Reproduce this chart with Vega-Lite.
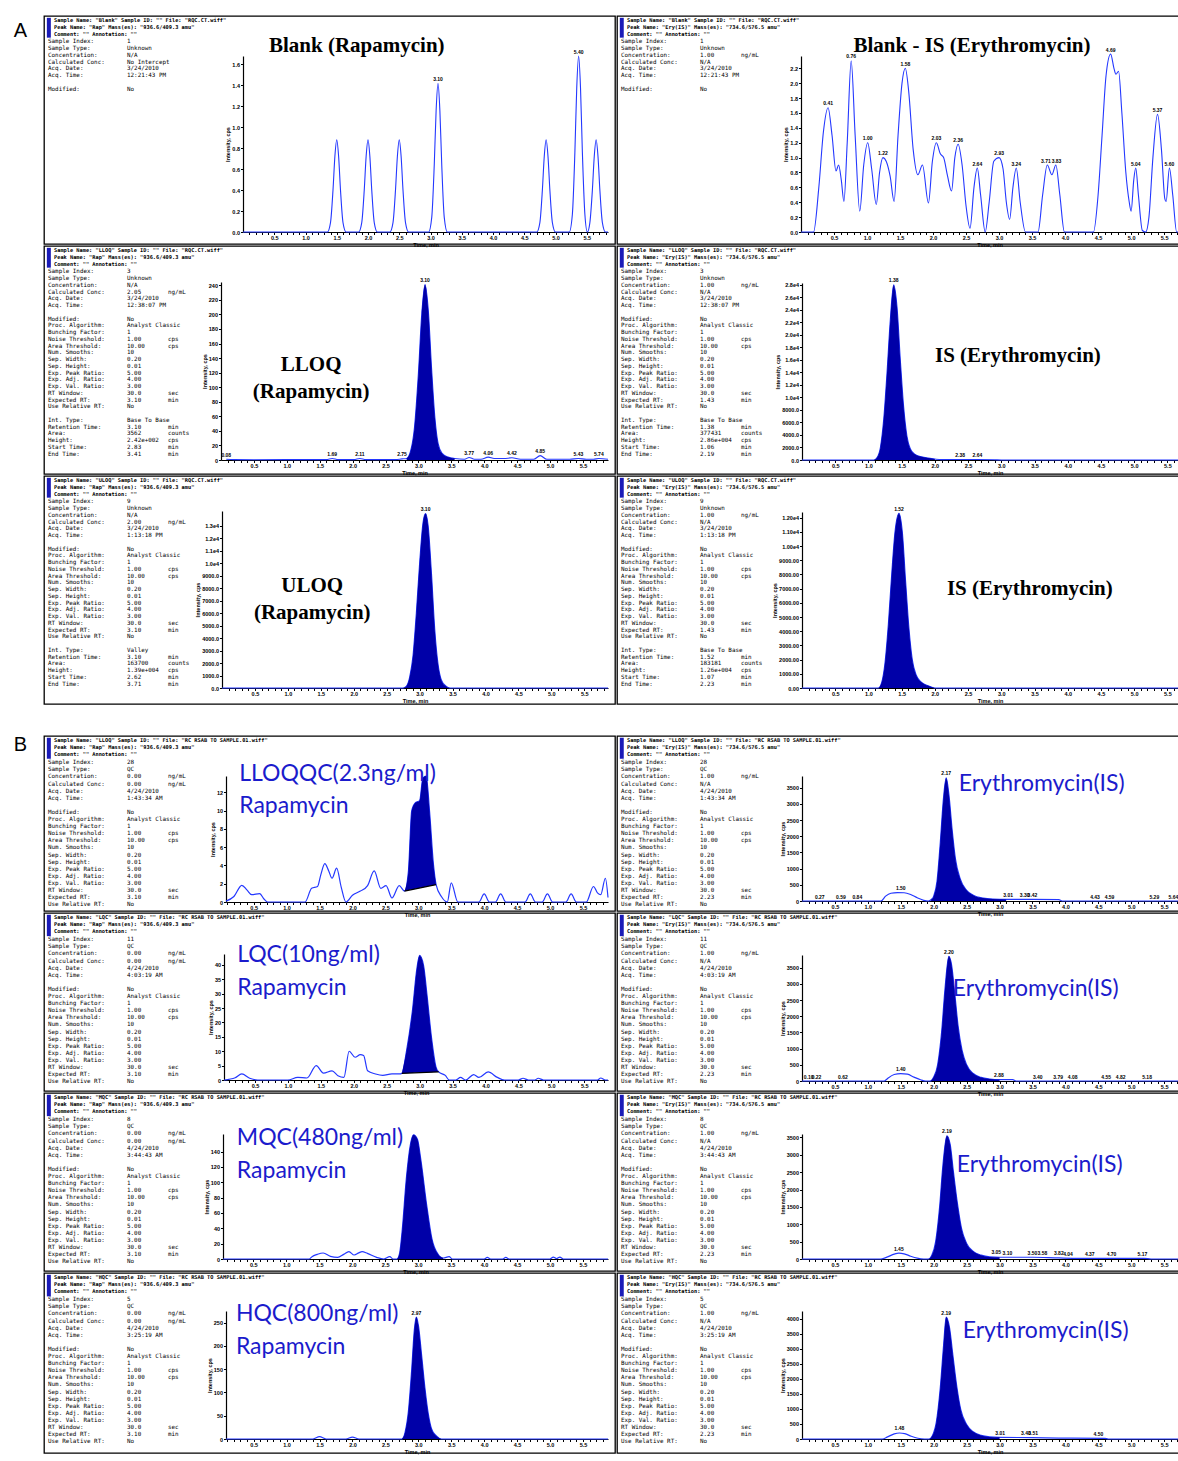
{
"$schema": "https://vega.github.io/schema/vega-lite/v6.json",
"background": "white",
"padding": {"left": 13, "top": 15, "right": 0, "bottom": 0},
"config": {
  "view": {"stroke": "#000000", "strokeWidth": 1.3},
  "axis": {"labelFont": "Liberation Sans", "labelFontSize": 5.5, "labelFontWeight": "bold", "labelColor": "#000", "titleFont": "Liberation Sans", "titleFontSize": 5.5, "titleFontWeight": "bold", "titleColor": "#000", "domainColor": "#000", "domainWidth": 1.2, "tickColor": "#000", "tickSize": 2.5, "tickWidth": 1, "grid": false, "labelPadding": 1, "titlePadding": 1, "labelOverlap": false, "labelFlush": false, "tickCount": 200}
},
"datasets": {
  "ml_a1": [{"s": "Sample Index:\nSample Type:\nConcentration:\nCalculated Conc:\nAcq. Date:\nAcq. Time:\n\u200b\nModified:"}],
  "ml_a": [{"s": "Sample Index:\nSample Type:\nConcentration:\nCalculated Conc:\nAcq. Date:\nAcq. Time:\n\u200b\nModified:\nProc. Algorithm:\nBunching Factor:\nNoise Threshold:\nArea Threshold:\nNum. Smooths:\nSep. Width:\nSep. Height:\nExp. Peak Ratio:\nExp. Adj. Ratio:\nExp. Val. Ratio:\nRT Window:\nExpected RT:\nUse Relative RT:\n\u200b\nInt. Type:\nRetention Time:\nArea:\nHeight:\nStart Time:\nEnd Time:"}],
  "ml_b": [{"s": "Sample Index:\nSample Type:\nConcentration:\nCalculated Conc:\nAcq. Date:\nAcq. Time:\n\u200b\nModified:\nProc. Algorithm:\nBunching Factor:\nNoise Threshold:\nArea Threshold:\nNum. Smooths:\nSep. Width:\nSep. Height:\nExp. Peak Ratio:\nExp. Adj. Ratio:\nExp. Val. Ratio:\nRT Window:\nExpected RT:\nUse Relative RT:"}],
  "mu_a1r": [{"s": "\u200b\n\u200b\nng/mL"}],
  "mu_al": [{"s": "\u200b\n\u200b\n\u200b\nng/mL\n\u200b\n\u200b\n\u200b\n\u200b\n\u200b\n\u200b\ncps\ncps\n\u200b\n\u200b\n\u200b\n\u200b\n\u200b\n\u200b\nsec\nmin\n\u200b\n\u200b\n\u200b\nmin\ncounts\ncps\nmin\nmin"}],
  "mu_ar": [{"s": "\u200b\n\u200b\nng/mL\n\u200b\n\u200b\n\u200b\n\u200b\n\u200b\n\u200b\n\u200b\ncps\ncps\n\u200b\n\u200b\n\u200b\n\u200b\n\u200b\n\u200b\nsec\nmin\n\u200b\n\u200b\n\u200b\nmin\ncounts\ncps\nmin\nmin"}],
  "mu_bl": [{"s": "\u200b\n\u200b\nng/mL\nng/mL\n\u200b\n\u200b\n\u200b\n\u200b\n\u200b\n\u200b\ncps\ncps\n\u200b\n\u200b\n\u200b\n\u200b\n\u200b\n\u200b\nsec\nmin"}],
  "mu_br": [{"s": "\u200b\n\u200b\nng/mL\n\u200b\n\u200b\n\u200b\n\u200b\n\u200b\n\u200b\n\u200b\ncps\ncps\n\u200b\n\u200b\n\u200b\n\u200b\n\u200b\n\u200b\nsec\nmin"}],
  "mt_a1l": [{"h": "Sample Name: \"Blank\"  Sample ID: \"\"  File: \"RQC.CT.wiff\"\nPeak Name: \"Rap\"  Mass(es): \"936.6/409.3 amu\"\nComment: \"\"  Annotation: \"\"", "v": "1\nUnknown\nN/A\nNo Intercept\n3/24/2010\n12:21:43 PM\n\u200b\nNo"}],
  "mt_a1r": [{"h": "Sample Name: \"Blank\"  Sample ID: \"\"  File: \"RQC.CT.wiff\"\nPeak Name: \"Ery(IS)\"  Mass(es): \"734.6/576.5 amu\"\nComment: \"\"  Annotation: \"\"", "v": "1\nUnknown\n1.00\nN/A\n3/24/2010\n12:21:43 PM\n\u200b\nNo"}],
  "mt_a2l": [{"h": "Sample Name: \"LLOQ\"  Sample ID: \"\"  File: \"RQC.CT.wiff\"\nPeak Name: \"Rap\"  Mass(es): \"936.6/409.3 amu\"\nComment: \"\"  Annotation: \"\"", "v": "3\nUnknown\nN/A\n2.05\n3/24/2010\n12:38:07 PM\n\u200b\nNo\nAnalyst Classic\n1\n1.00\n10.00\n10\n0.20\n0.01\n5.00\n4.00\n3.00\n30.0\n3.10\nNo\n\u200b\nBase To Base\n3.10\n3562\n2.42e+002\n2.83\n3.41"}],
  "mt_a2r": [{"h": "Sample Name: \"LLOQ\"  Sample ID: \"\"  File: \"RQC.CT.wiff\"\nPeak Name: \"Ery(IS)\"  Mass(es): \"734.6/576.5 amu\"\nComment: \"\"  Annotation: \"\"", "v": "3\nUnknown\n1.00\nN/A\n3/24/2010\n12:38:07 PM\n\u200b\nNo\nAnalyst Classic\n1\n1.00\n10.00\n10\n0.20\n0.01\n5.00\n4.00\n3.00\n30.0\n1.43\nNo\n\u200b\nBase To Base\n1.38\n377431\n2.86e+004\n1.06\n2.19"}],
  "mt_a3l": [{"h": "Sample Name: \"ULOQ\"  Sample ID: \"\"  File: \"RQC.CT.wiff\"\nPeak Name: \"Rap\"  Mass(es): \"936.6/409.3 amu\"\nComment: \"\"  Annotation: \"\"", "v": "9\nUnknown\nN/A\n2.00\n3/24/2010\n1:13:18 PM\n\u200b\nNo\nAnalyst Classic\n1\n1.00\n10.00\n10\n0.20\n0.01\n5.00\n4.00\n3.00\n30.0\n3.10\nNo\n\u200b\nValley\n3.10\n163700\n1.39e+004\n2.62\n3.71"}],
  "mt_a3r": [{"h": "Sample Name: \"ULOQ\"  Sample ID: \"\"  File: \"RQC.CT.wiff\"\nPeak Name: \"Ery(IS)\"  Mass(es): \"734.6/576.5 amu\"\nComment: \"\"  Annotation: \"\"", "v": "9\nUnknown\n1.00\nN/A\n3/24/2010\n1:13:18 PM\n\u200b\nNo\nAnalyst Classic\n1\n1.00\n10.00\n10\n0.20\n0.01\n5.00\n4.00\n3.00\n30.0\n1.43\nNo\n\u200b\nBase To Base\n1.52\n183181\n1.26e+004\n1.07\n2.23"}],
  "mt_b1l": [{"h": "Sample Name: \"LLOQ\"  Sample ID: \"\"  File: \"RC RSAB TO SAMPLE.01.wiff\"\nPeak Name: \"Rap\"  Mass(es): \"936.6/409.3 amu\"\nComment: \"\"  Annotation: \"\"", "v": "28\nQC\n0.00\n0.00\n4/24/2010\n1:43:34 AM\n\u200b\nNo\nAnalyst Classic\n1\n1.00\n10.00\n10\n0.20\n0.01\n5.00\n4.00\n3.00\n30.0\n3.10\nNo"}],
  "mt_b1r": [{"h": "Sample Name: \"LLOQ\"  Sample ID: \"\"  File: \"RC RSAB TO SAMPLE.01.wiff\"\nPeak Name: \"Ery(IS)\"  Mass(es): \"734.6/576.5 amu\"\nComment: \"\"  Annotation: \"\"", "v": "28\nQC\n1.00\nN/A\n4/24/2010\n1:43:34 AM\n\u200b\nNo\nAnalyst Classic\n1\n1.00\n10.00\n10\n0.20\n0.01\n5.00\n4.00\n3.00\n30.0\n2.23\nNo"}],
  "mt_b2l": [{"h": "Sample Name: \"LQC\"  Sample ID: \"\"  File: \"RC RSAB TO SAMPLE.01.wiff\"\nPeak Name: \"Rap\"  Mass(es): \"936.6/409.3 amu\"\nComment: \"\"  Annotation: \"\"", "v": "11\nQC\n0.00\n0.00\n4/24/2010\n4:03:19 AM\n\u200b\nNo\nAnalyst Classic\n1\n1.00\n10.00\n10\n0.20\n0.01\n5.00\n4.00\n3.00\n30.0\n3.10\nNo"}],
  "mt_b2r": [{"h": "Sample Name: \"LQC\"  Sample ID: \"\"  File: \"RC RSAB TO SAMPLE.01.wiff\"\nPeak Name: \"Ery(IS)\"  Mass(es): \"734.6/576.5 amu\"\nComment: \"\"  Annotation: \"\"", "v": "11\nQC\n1.00\nN/A\n4/24/2010\n4:03:19 AM\n\u200b\nNo\nAnalyst Classic\n1\n1.00\n10.00\n10\n0.20\n0.01\n5.00\n4.00\n3.00\n30.0\n2.23\nNo"}],
  "mt_b3l": [{"h": "Sample Name: \"MQC\"  Sample ID: \"\"  File: \"RC RSAB TO SAMPLE.01.wiff\"\nPeak Name: \"Rap\"  Mass(es): \"936.6/409.3 amu\"\nComment: \"\"  Annotation: \"\"", "v": "8\nQC\n0.00\n0.00\n4/24/2010\n3:44:43 AM\n\u200b\nNo\nAnalyst Classic\n1\n1.00\n10.00\n10\n0.20\n0.01\n5.00\n4.00\n3.00\n30.0\n3.10\nNo"}],
  "mt_b3r": [{"h": "Sample Name: \"MQC\"  Sample ID: \"\"  File: \"RC RSAB TO SAMPLE.01.wiff\"\nPeak Name: \"Ery(IS)\"  Mass(es): \"734.6/576.5 amu\"\nComment: \"\"  Annotation: \"\"", "v": "8\nQC\n1.00\nN/A\n4/24/2010\n3:44:43 AM\n\u200b\nNo\nAnalyst Classic\n1\n1.00\n10.00\n10\n0.20\n0.01\n5.00\n4.00\n3.00\n30.0\n2.23\nNo"}],
  "mt_b4l": [{"h": "Sample Name: \"HQC\"  Sample ID: \"\"  File: \"RC RSAB TO SAMPLE.01.wiff\"\nPeak Name: \"Rap\"  Mass(es): \"936.6/409.3 amu\"\nComment: \"\"  Annotation: \"\"", "v": "5\nQC\n0.00\n0.00\n4/24/2010\n3:25:19 AM\n\u200b\nNo\nAnalyst Classic\n1\n1.00\n10.00\n10\n0.20\n0.01\n5.00\n4.00\n3.00\n30.0\n3.10\nNo"}],
  "mt_b4r": [{"h": "Sample Name: \"HQC\"  Sample ID: \"\"  File: \"RC RSAB TO SAMPLE.01.wiff\"\nPeak Name: \"Ery(IS)\"  Mass(es): \"734.6/576.5 amu\"\nComment: \"\"  Annotation: \"\"", "v": "5\nQC\n1.00\nN/A\n4/24/2010\n3:25:19 AM\n\u200b\nNo\nAnalyst Classic\n1\n1.00\n10.00\n10\n0.20\n0.01\n5.00\n4.00\n3.00\n30.0\n2.23\nNo"}],
  "tr_a1l": [{"t":0,"y":0},{"t":1.35,"y":0},{"t":1.4,"y":0.09},{"t":1.44,"y":0.4},{"t":1.47,"y":0.72},{"t":1.5,"y":0.88},{"t":1.53,"y":0.72},{"t":1.56,"y":0.4},{"t":1.6,"y":0.09},{"t":1.65,"y":0},{"t":1.85,"y":0},{"t":1.9,"y":0.09},{"t":1.94,"y":0.4},{"t":1.97,"y":0.72},{"t":2.0,"y":0.88},{"t":2.03,"y":0.72},{"t":2.06,"y":0.4},{"t":2.1,"y":0.09},{"t":2.15,"y":0},{"t":2.35,"y":0},{"t":2.4,"y":0.09},{"t":2.44,"y":0.4},{"t":2.47,"y":0.72},{"t":2.5,"y":0.88},{"t":2.53,"y":0.72},{"t":2.56,"y":0.4},{"t":2.6,"y":0.09},{"t":2.65,"y":0},{"t":2.97,"y":0},{"t":3.02,"y":0.14},{"t":3.06,"y":0.64},{"t":3.09,"y":1.16},{"t":3.12,"y":1.42},{"t":3.15,"y":1.16},{"t":3.18,"y":0.64},{"t":3.22,"y":0.14},{"t":3.27,"y":0},{"t":4.7,"y":0},{"t":4.75,"y":0.09},{"t":4.79,"y":0.4},{"t":4.82,"y":0.72},{"t":4.85,"y":0.88},{"t":4.88,"y":0.72},{"t":4.91,"y":0.4},{"t":4.95,"y":0.09},{"t":5.0,"y":0},{"t":5.22,"y":0},{"t":5.27,"y":0.17},{"t":5.31,"y":0.76},{"t":5.34,"y":1.38},{"t":5.37,"y":1.68},{"t":5.4,"y":1.38},{"t":5.43,"y":0.76},{"t":5.47,"y":0.17},{"t":5.51,"y":0},{"t":5.55,"y":0.09},{"t":5.59,"y":0.4},{"t":5.62,"y":0.72},{"t":5.65,"y":0.88},{"t":5.68,"y":0.72},{"t":5.71,"y":0.4},{"t":5.75,"y":0.09},{"t":5.8,"y":0},{"t":5.84,"y":0}],
  "lb_a1l": [{"t":3.12,"y":1.42,"lab":"3.10"},{"t":5.37,"y":1.68,"lab":"5.40"}],
  "tr_a1r": [{"t":0,"y":0},{"t":0.19,"y":0},{"t":0.27,"y":0.6},{"t":0.34,"y":1.35},{"t":0.41,"y":1.67},{"t":0.47,"y":1.3},{"t":0.53,"y":0.82},{"t":0.57,"y":0.9},{"t":0.61,"y":0.7},{"t":0.65,"y":0.41},{"t":0.7,"y":1.2},{"t":0.76,"y":2.3},{"t":0.82,"y":1.3},{"t":0.89,"y":0.28},{"t":0.95,"y":0.9},{"t":1.01,"y":1.2},{"t":1.07,"y":0.85},{"t":1.14,"y":0.37},{"t":1.19,"y":0.8},{"t":1.24,"y":1.0},{"t":1.29,"y":0.95},{"t":1.35,"y":0.75},{"t":1.41,"y":0.41},{"t":1.47,"y":1.3},{"t":1.53,"y":2.0},{"t":1.58,"y":2.2},{"t":1.63,"y":1.9},{"t":1.7,"y":1.1},{"t":1.77,"y":0.77},{"t":1.84,"y":0.9},{"t":1.93,"y":0.39},{"t":1.99,"y":0.95},{"t":2.05,"y":1.2},{"t":2.11,"y":1.05},{"t":2.16,"y":1.0},{"t":2.22,"y":0.75},{"t":2.28,"y":0.55},{"t":2.33,"y":1.0},{"t":2.38,"y":1.18},{"t":2.44,"y":0.9},{"t":2.5,"y":0.35},{"t":2.56,"y":0.05},{"t":2.62,"y":0.6},{"t":2.67,"y":0.86},{"t":2.72,"y":0.5},{"t":2.79,"y":0},{"t":2.85,"y":0.4},{"t":2.92,"y":0.95},{"t":3.0,"y":1.0},{"t":3.06,"y":0.85},{"t":3.11,"y":0.4},{"t":3.16,"y":0.17},{"t":3.21,"y":0.6},{"t":3.26,"y":0.86},{"t":3.32,"y":0.4},{"t":3.4,"y":0},{"t":3.59,"y":0},{"t":3.66,"y":0.5},{"t":3.73,"y":0.9},{"t":3.8,"y":0.77},{"t":3.86,"y":0.9},{"t":3.92,"y":0.5},{"t":3.99,"y":0},{"t":4.43,"y":0},{"t":4.5,"y":0.5},{"t":4.56,"y":1.3},{"t":4.62,"y":2.1},{"t":4.69,"y":2.39},{"t":4.74,"y":2.2},{"t":4.77,"y":2.12},{"t":4.81,"y":2.16},{"t":4.86,"y":1.6},{"t":4.92,"y":0.8},{"t":4.97,"y":0.41},{"t":5.0,"y":0.28},{"t":5.04,"y":0.7},{"t":5.07,"y":0.86},{"t":5.11,"y":0.5},{"t":5.17,"y":0.02},{"t":5.22,"y":0},{"t":5.27,"y":0.2},{"t":5.33,"y":1.0},{"t":5.4,"y":1.58},{"t":5.46,"y":1.1},{"t":5.51,"y":0.45},{"t":5.53,"y":0.41},{"t":5.58,"y":0.86},{"t":5.63,"y":0.5},{"t":5.69,"y":0},{"t":5.71,"y":0}],
  "lb_a1r": [{"t":0.41,"y":1.67,"lab":"0.41"},{"t":0.76,"y":2.3,"lab":"0.76"},{"t":1.01,"y":1.2,"lab":"1.00"},{"t":1.24,"y":1.0,"lab":"1.22"},{"t":1.58,"y":2.2,"lab":"1.58"},{"t":2.05,"y":1.2,"lab":"2.03"},{"t":2.38,"y":1.18,"lab":"2.36"},{"t":2.67,"y":0.86,"lab":"2.64"},{"t":3.0,"y":1.0,"lab":"2.93"},{"t":3.26,"y":0.86,"lab":"3.24"},{"t":3.71,"y":0.9,"lab":"3.71"},{"t":3.87,"y":0.9,"lab":"3.83"},{"t":4.69,"y":2.39,"lab":"4.69"},{"t":5.07,"y":0.86,"lab":"5.04"},{"t":5.4,"y":1.58,"lab":"5.37"},{"t":5.58,"y":0.86,"lab":"5.60"}],
  "tr_a2l": [{"t":0.08,"y":1},{"t":0.2,"y":0.5},{"t":0.5,"y":0.3},{"t":1.0,"y":0.5},{"t":1.6,"y":0.5},{"t":1.69,"y":2},{"t":1.78,"y":0.5},{"t":2.02,"y":0.5},{"t":2.11,"y":2},{"t":2.2,"y":0.5},{"t":2.65,"y":0.5},{"t":2.75,"y":1.5},{"t":2.82,"y":2},{"t":2.88,"y":12},{"t":2.94,"y":45},{"t":3.0,"y":120},{"t":3.05,"y":200},{"t":3.1,"y":241},{"t":3.15,"y":205},{"t":3.2,"y":125},{"t":3.25,"y":58},{"t":3.3,"y":22},{"t":3.36,"y":9},{"t":3.45,"y":4},{"t":3.55,"y":2},{"t":3.7,"y":1},{"t":3.77,"y":3.5},{"t":3.85,"y":1},{"t":3.95,"y":1},{"t":4.06,"y":4},{"t":4.15,"y":2},{"t":4.3,"y":2},{"t":4.42,"y":3},{"t":4.55,"y":1},{"t":4.75,"y":1},{"t":4.85,"y":6},{"t":4.95,"y":1},{"t":5.3,"y":1},{"t":5.43,"y":2},{"t":5.55,"y":1},{"t":5.66,"y":1},{"t":5.74,"y":2},{"t":5.88,"y":1}],
  "lb_a2l": [{"t":0.08,"y":1,"lab":"0.08"},{"t":1.69,"y":2,"lab":"1.69"},{"t":2.11,"y":2,"lab":"2.11"},{"t":2.75,"y":1.5,"lab":"2.75"},{"t":3.1,"y":241,"lab":"3.10"},{"t":3.77,"y":3.5,"lab":"3.77"},{"t":4.06,"y":4,"lab":"4.06"},{"t":4.42,"y":3,"lab":"4.42"},{"t":4.85,"y":6,"lab":"4.85"},{"t":5.43,"y":2,"lab":"5.43"},{"t":5.74,"y":2,"lab":"5.74"}],
  "tr_a2r": [{"t":0,"y":0},{"t":1.08,"y":0},{"t":1.13,"y":400},{"t":1.18,"y":2000},{"t":1.23,"y":6500},{"t":1.28,"y":14000},{"t":1.33,"y":22500},{"t":1.38,"y":28000},{"t":1.43,"y":24500},{"t":1.48,"y":16000},{"t":1.53,"y":8500},{"t":1.58,"y":3800},{"t":1.63,"y":1800},{"t":1.7,"y":900},{"t":1.8,"y":500},{"t":1.9,"y":300},{"t":2.0,"y":150},{"t":2.1,"y":60},{"t":2.38,"y":90},{"t":2.64,"y":90},{"t":2.9,"y":40},{"t":3.0,"y":0},{"t":5.66,"y":0}],
  "lb_a2r": [{"t":1.38,"y":28000,"lab":"1.38"},{"t":2.38,"y":90,"lab":"2.38"},{"t":2.64,"y":90,"lab":"2.64"}],
  "tr_a3l": [{"t":0,"y":0},{"t":2.75,"y":0},{"t":2.8,"y":150},{"t":2.85,"y":900},{"t":2.9,"y":2600},{"t":2.95,"y":6000},{"t":3.0,"y":10000},{"t":3.05,"y":13200},{"t":3.09,"y":14000},{"t":3.13,"y":13000},{"t":3.18,"y":9200},{"t":3.23,"y":4700},{"t":3.28,"y":1900},{"t":3.33,"y":650},{"t":3.4,"y":150},{"t":3.46,"y":0},{"t":5.86,"y":0}],
  "lb_a3l": [{"t":3.09,"y":14000,"lab":"3.10"}],
  "tr_a3r": [{"t":0,"y":0},{"t":1.15,"y":0},{"t":1.2,"y":400},{"t":1.25,"y":1800},{"t":1.3,"y":4500},{"t":1.35,"y":8000},{"t":1.4,"y":11000},{"t":1.46,"y":12300},{"t":1.51,"y":11000},{"t":1.56,"y":7500},{"t":1.61,"y":4200},{"t":1.66,"y":2000},{"t":1.72,"y":900},{"t":1.8,"y":400},{"t":1.9,"y":150},{"t":2.0,"y":0},{"t":5.66,"y":0}],
  "lb_a3r": [{"t":1.46,"y":12300,"lab":"1.52"}],
  "tr_b1l": [{"t":0.08,"y":0.1},{"t":0.2,"y":0.6},{"t":0.32,"y":1.83},{"t":0.4,"y":1.3},{"t":0.47,"y":0.8},{"t":0.59,"y":0.92},{"t":0.66,"y":0.3},{"t":0.71,"y":0},{"t":1.28,"y":0},{"t":1.38,"y":1.5},{"t":1.47,"y":1.7},{"t":1.52,"y":3.0},{"t":1.58,"y":4.2},{"t":1.64,"y":3.4},{"t":1.69,"y":2.6},{"t":1.76,"y":3.7},{"t":1.83,"y":1.6},{"t":1.9,"y":0},{"t":2.0,"y":0.73},{"t":2.12,"y":1.2},{"t":2.23,"y":1.8},{"t":2.33,"y":3.4},{"t":2.43,"y":1.5},{"t":2.51,"y":1.8},{"t":2.6,"y":0.44},{"t":2.71,"y":1.8},{"t":2.79,"y":1.2},{"t":2.85,"y":3.4},{"t":2.9,"y":10},{"t":2.96,"y":10.9},{"t":3.02,"y":11.1},{"t":3.07,"y":13.6},{"t":3.12,"y":13.8},{"t":3.17,"y":10},{"t":3.23,"y":4.1},{"t":3.27,"y":1.9},{"t":3.35,"y":0.6},{"t":3.44,"y":0},{"t":3.5,"y":2.1},{"t":3.6,"y":0},{"t":3.92,"y":0},{"t":4.0,"y":0.9},{"t":4.08,"y":0},{"t":4.17,"y":0},{"t":4.25,"y":0.9},{"t":4.33,"y":0},{"t":4.62,"y":0},{"t":4.7,"y":0.9},{"t":4.78,"y":0},{"t":4.88,"y":0},{"t":4.96,"y":0.9},{"t":5.04,"y":0},{"t":5.24,"y":0},{"t":5.32,"y":0.9},{"t":5.4,"y":0},{"t":5.55,"y":0},{"t":5.66,"y":1.7},{"t":5.72,"y":1.0},{"t":5.77,"y":0.8},{"t":5.84,"y":2.6},{"t":5.88,"y":0.5}],
  "ar_b1l": [{"t":2.79,"y":1.2,"b":1.2},{"t":2.85,"y":3.4,"b":1.29},{"t":2.9,"y":10,"b":1.36},{"t":2.96,"y":10.9,"b":1.45},{"t":3.02,"y":11.1,"b":1.54},{"t":3.07,"y":13.6,"b":1.61},{"t":3.12,"y":13.8,"b":1.68},{"t":3.17,"y":10,"b":1.75},{"t":3.23,"y":4.1,"b":1.84},{"t":3.27,"y":1.9,"b":1.9}],
  "rl_b1l": [{"t":2.79,"y":1.2,"t2":3.27,"y2":1.9}],
  "tr_b1r": [{"t":0,"y":0},{"t":1.2,"y":0},{"t":1.27,"y":150},{"t":1.35,"y":240},{"t":1.45,"y":260},{"t":1.55,"y":255},{"t":1.65,"y":200},{"t":1.75,"y":100},{"t":1.85,"y":20},{"t":1.92,"y":0},{"t":1.96,"y":40},{"t":2.0,"y":150},{"t":2.05,"y":600},{"t":2.1,"y":1800},{"t":2.15,"y":3200},{"t":2.19,"y":3800},{"t":2.23,"y":3300},{"t":2.28,"y":2200},{"t":2.33,"y":1300},{"t":2.4,"y":700},{"t":2.5,"y":330},{"t":2.6,"y":180},{"t":2.75,"y":90},{"t":2.9,"y":60},{"t":3.1,"y":50},{"t":3.5,"y":50},{"t":3.9,"y":40},{"t":3.95,"y":0},{"t":5.71,"y":0}],
  "lb_b1r": [{"t":0.27,"y":0,"lab":"0.27"},{"t":0.59,"y":0,"lab":"0.59"},{"t":0.84,"y":0,"lab":"0.84"},{"t":1.5,"y":258,"lab":"1.50"},{"t":2.19,"y":3800,"lab":"2.17"},{"t":3.13,"y":50,"lab":"3.01"},{"t":3.38,"y":50,"lab":"3.30"},{"t":3.5,"y":50,"lab":"3.42"},{"t":4.45,"y":0,"lab":"4.43"},{"t":4.67,"y":0,"lab":"4.59"},{"t":5.35,"y":0,"lab":"5.29"},{"t":5.64,"y":0,"lab":"5.64"}],
  "tr_b2l": [{"t":0.03,"y":0},{"t":0.2,"y":0.8},{"t":0.3,"y":2.1},{"t":0.42,"y":0.6},{"t":0.54,"y":0},{"t":1.0,"y":0},{"t":1.15,"y":0.9},{"t":1.29,"y":0.7},{"t":1.43,"y":5.0},{"t":1.54,"y":2.4},{"t":1.67,"y":3.2},{"t":1.76,"y":1.5},{"t":1.85,"y":0.9},{"t":1.93,"y":10},{"t":2.02,"y":7.9},{"t":2.1,"y":8.8},{"t":2.15,"y":8.5},{"t":2.21,"y":3.2},{"t":2.33,"y":2.1},{"t":2.44,"y":1.6},{"t":2.58,"y":2.1},{"t":2.69,"y":2.1},{"t":2.73,"y":2.3},{"t":2.8,"y":10},{"t":2.89,"y":24},{"t":2.96,"y":39},{"t":3.0,"y":43.3},{"t":3.06,"y":39.8},{"t":3.11,"y":30},{"t":3.18,"y":14.8},{"t":3.25,"y":4.4},{"t":3.29,"y":2.8},{"t":3.39,"y":1.6},{"t":3.45,"y":0},{"t":3.55,"y":0},{"t":3.62,"y":0.9},{"t":3.7,"y":0},{"t":3.82,"y":1.9},{"t":3.9,"y":0.9},{"t":4.04,"y":2.8},{"t":4.18,"y":0.9},{"t":4.29,"y":0},{"t":4.5,"y":0},{"t":4.57,"y":0.6},{"t":4.65,"y":0},{"t":4.75,"y":0},{"t":4.8,"y":0.6},{"t":4.88,"y":0},{"t":5.7,"y":0},{"t":5.75,"y":0.7},{"t":5.82,"y":0},{"t":5.86,"y":0}],
  "ar_b2l": [{"t":2.73,"y":2.3,"b":2.3},{"t":2.8,"y":10,"b":2.36},{"t":2.89,"y":24,"b":2.44},{"t":2.96,"y":39,"b":2.51},{"t":3.0,"y":43.3,"b":2.54},{"t":3.06,"y":39.8,"b":2.59},{"t":3.11,"y":30,"b":2.64},{"t":3.18,"y":14.8,"b":2.7},{"t":3.25,"y":4.4,"b":2.76},{"t":3.29,"y":2.8,"b":2.8}],
  "rl_b2l": [{"t":2.73,"y":2.3,"t2":3.29,"y2":2.8}],
  "tr_b2r": [{"t":0,"y":0},{"t":1.25,"y":0},{"t":1.3,"y":80},{"t":1.4,"y":200},{"t":1.5,"y":228},{"t":1.6,"y":210},{"t":1.7,"y":120},{"t":1.8,"y":40},{"t":1.88,"y":0},{"t":1.95,"y":0},{"t":2.0,"y":120},{"t":2.06,"y":500},{"t":2.12,"y":1500},{"t":2.17,"y":2800},{"t":2.23,"y":3850},{"t":2.27,"y":3600},{"t":2.32,"y":2700},{"t":2.37,"y":1700},{"t":2.43,"y":950},{"t":2.5,"y":500},{"t":2.6,"y":230},{"t":2.72,"y":110},{"t":2.85,"y":60},{"t":3.0,"y":40},{"t":3.2,"y":40},{"t":3.25,"y":0},{"t":5.71,"y":0}],
  "lb_b2r": [{"t":0.1,"y":0,"lab":"0.10"},{"t":0.22,"y":0,"lab":"0.22"},{"t":0.62,"y":0,"lab":"0.62"},{"t":1.5,"y":228,"lab":"1.40"},{"t":2.23,"y":3850,"lab":"2.20"},{"t":2.99,"y":45,"lab":"2.88"},{"t":3.58,"y":0,"lab":"3.40"},{"t":3.89,"y":0,"lab":"3.79"},{"t":4.11,"y":0,"lab":"4.08"},{"t":4.62,"y":0,"lab":"4.55"},{"t":4.84,"y":0,"lab":"4.82"},{"t":5.24,"y":0,"lab":"5.18"}],
  "tr_b3l": [{"t":0.04,"y":0},{"t":1.35,"y":0},{"t":1.39,"y":3},{"t":1.47,"y":6},{"t":1.56,"y":7.8},{"t":1.67,"y":3.5},{"t":1.78,"y":2.2},{"t":1.87,"y":6},{"t":1.95,"y":9.6},{"t":2.03,"y":5.2},{"t":2.1,"y":8},{"t":2.15,"y":9.6},{"t":2.23,"y":7.4},{"t":2.37,"y":2.2},{"t":2.48,"y":0},{"t":2.57,"y":3},{"t":2.62,"y":0},{"t":2.68,"y":0},{"t":2.72,"y":8},{"t":2.76,"y":39},{"t":2.82,"y":104},{"t":2.88,"y":148},{"t":2.93,"y":162},{"t":2.99,"y":156},{"t":3.04,"y":130},{"t":3.13,"y":70},{"t":3.21,"y":26},{"t":3.3,"y":6.5},{"t":3.38,"y":1.3},{"t":3.47,"y":3},{"t":3.52,"y":0},{"t":4.0,"y":0},{"t":4.05,"y":2},{"t":4.1,"y":0},{"t":4.28,"y":0},{"t":4.33,"y":2},{"t":4.38,"y":0},{"t":5.0,"y":0},{"t":5.05,"y":2.5},{"t":5.1,"y":0.5},{"t":5.15,"y":2.5},{"t":5.2,"y":0},{"t":5.88,"y":0}],
  "tr_b3r": [{"t":0,"y":0},{"t":1.2,"y":0},{"t":1.3,"y":60},{"t":1.4,"y":140},{"t":1.47,"y":170},{"t":1.55,"y":150},{"t":1.65,"y":80},{"t":1.75,"y":25},{"t":1.85,"y":0},{"t":1.92,"y":0},{"t":1.97,"y":100},{"t":2.03,"y":500},{"t":2.09,"y":1500},{"t":2.14,"y":2700},{"t":2.2,"y":3550},{"t":2.25,"y":3300},{"t":2.3,"y":2500},{"t":2.36,"y":1600},{"t":2.42,"y":900},{"t":2.5,"y":450},{"t":2.6,"y":220},{"t":2.72,"y":110},{"t":2.85,"y":60},{"t":3.0,"y":50},{"t":3.5,"y":50},{"t":3.9,"y":30},{"t":4.2,"y":20},{"t":5.2,"y":20},{"t":5.3,"y":0},{"t":5.71,"y":0}],
  "lb_b3r": [{"t":1.47,"y":170,"lab":"1.45"},{"t":2.2,"y":3550,"lab":"2.19"},{"t":2.95,"y":60,"lab":"3.05"},{"t":3.12,"y":55,"lab":"3.10"},{"t":3.5,"y":50,"lab":"3.50"},{"t":3.65,"y":45,"lab":"3.58"},{"t":3.9,"y":30,"lab":"3.82"},{"t":4.04,"y":25,"lab":"4.04"},{"t":4.37,"y":20,"lab":"4.37"},{"t":4.7,"y":20,"lab":"4.70"},{"t":5.17,"y":20,"lab":"5.17"}],
  "tr_b4l": [{"t":0.08,"y":0},{"t":1.4,"y":0},{"t":1.5,"y":5},{"t":1.6,"y":0},{"t":1.9,"y":0},{"t":2.0,"y":4},{"t":2.1,"y":0},{"t":2.75,"y":0},{"t":2.8,"y":15},{"t":2.85,"y":60},{"t":2.9,"y":150},{"t":2.94,"y":235},{"t":2.97,"y":262},{"t":3.0,"y":245},{"t":3.05,"y":180},{"t":3.1,"y":110},{"t":3.15,"y":55},{"t":3.2,"y":22},{"t":3.27,"y":7},{"t":3.35,"y":0},{"t":5.88,"y":0}],
  "lb_b4l": [{"t":2.97,"y":262,"lab":"2.97"}],
  "tr_b4r": [{"t":0,"y":0},{"t":1.22,"y":0},{"t":1.3,"y":70},{"t":1.4,"y":170},{"t":1.48,"y":200},{"t":1.56,"y":180},{"t":1.66,"y":90},{"t":1.76,"y":25},{"t":1.86,"y":0},{"t":1.93,"y":0},{"t":1.98,"y":110},{"t":2.04,"y":560},{"t":2.1,"y":1700},{"t":2.15,"y":3100},{"t":2.19,"y":4050},{"t":2.24,"y":3700},{"t":2.29,"y":2800},{"t":2.35,"y":1750},{"t":2.41,"y":980},{"t":2.5,"y":480},{"t":2.6,"y":240},{"t":2.72,"y":120},{"t":2.85,"y":70},{"t":3.0,"y":55},{"t":3.5,"y":45},{"t":3.9,"y":30},{"t":4.6,"y":20},{"t":4.65,"y":0},{"t":5.71,"y":0}],
  "lb_b4r": [{"t":1.48,"y":200,"lab":"1.48"},{"t":2.19,"y":4050,"lab":"2.19"},{"t":3.01,"y":55,"lab":"3.01"},{"t":3.4,"y":48,"lab":"3.40"},{"t":3.51,"y":45,"lab":"3.51"},{"t":4.5,"y":20,"lab":"4.50"}]
},
"spacing": 30,
"vconcat": [
{
"title": {"text": "A", "orient": "left", "anchor": "end", "angle": 0, "align": "right", "baseline": "top", "font": "Liberation Sans", "fontSize": 20, "fontWeight": "normal", "color": "#000", "offset": 3, "dy": 6},
"columns": 2, "spacing": 2, "bounds": "flush",
"concat": [
  {"width": 571, "height": 228, "resolve": {"scale": {"x": "independent", "y": "independent"}},
   "layer": [
    {"data": {"name": "mt_a1l"}, "layer": [
      {"mark": {"type": "rect", "color": "#1a1ab8"}, "encoding": {"x": {"datum": 0.005, "type": "quantitative", "scale": {"domain": [0, 1]}, "axis": null}, "x2": {"datum": 0.012}, "y": {"datum": 0.992, "type": "quantitative", "scale": {"domain": [0, 1]}, "axis": null}, "y2": {"datum": 0.905}}},
      {"mark": {"type": "text", "align": "left", "baseline": "top", "font": "DejaVu Sans Mono", "fontSize": 5.3, "fontWeight": "bold", "lineBreak": "\n", "lineHeight": 6.75, "dx": 10, "dy": 2}, "encoding": {"x": {"datum": 0, "type": "quantitative"}, "y": {"datum": 1, "type": "quantitative"}, "text": {"field": "h"}}},
      {"data": {"name": "ml_a1"}, "mark": {"type": "text", "align": "left", "baseline": "top", "font": "DejaVu Sans Mono", "fontSize": 5.9, "lineBreak": "\n", "lineHeight": 6.75, "dx": 4, "dy": 22.25}, "encoding": {"x": {"datum": 0, "type": "quantitative"}, "y": {"datum": 1, "type": "quantitative"}, "text": {"field": "s"}}},
      {"mark": {"type": "text", "align": "left", "baseline": "top", "font": "DejaVu Sans Mono", "fontSize": 5.9, "lineBreak": "\n", "lineHeight": 6.75, "dx": 83, "dy": 22.25}, "encoding": {"x": {"datum": 0, "type": "quantitative"}, "y": {"datum": 1, "type": "quantitative"}, "text": {"field": "v"}}}
    ]},
    {"layer": [
      {"data": {"name": "tr_a1l"}, "mark": {"type": "line", "color": "#2438ff", "strokeWidth": 1.1, "interpolate": "monotone"},
       "encoding": {"x": {"field": "t", "type": "quantitative", "scale": {"domain": [0, 5.84], "range": [199, 564], "nice": false, "zero": false}, "axis": {"orient": "bottom", "offset": -12, "tickCount": 200, "labelOverlap": false, "values": [0.1,0.2,0.3,0.4,0.5,0.6,0.7,0.8,0.9,1.0,1.1,1.2,1.3,1.4,1.5,1.6,1.7,1.8,1.9,2.0,2.1,2.2,2.3,2.4,2.5,2.6,2.7,2.8,2.9,3.0,3.1,3.2,3.3,3.4,3.5,3.6,3.7,3.8,3.9,4.0,4.1,4.2,4.3,4.4,4.5,4.6,4.7,4.8,4.9,5.0,5.1,5.2,5.3,5.4,5.5,5.6,5.7,5.8], "labelExpr": "(round(datum.value*10) % 5 == 0) ? format(datum.value, '.1f') : ''", "title": "Time, min"}},
                    "y": {"field": "y", "type": "quantitative", "scale": {"domain": [0, 1.68], "range": [216, 40], "nice": false, "zero": false}, "axis": {"orient": "left", "offset": -199, "tickCount": 200, "labelOverlap": false, "values": [0,0.2,0.4,0.6,0.8,1.0,1.2,1.4,1.6], "labelExpr": "format(datum.value, '.1f')", "title": "Intensity, cps"}}}},
      {"data": {"name": "lb_a1l"}, "mark": {"type": "text", "font": "Liberation Sans", "fontSize": 5, "fontWeight": "bold", "baseline": "bottom", "dy": -1.5}, "encoding": {"x": {"field": "t", "type": "quantitative"}, "y": {"field": "y", "type": "quantitative"}, "text": {"field": "lab"}}},
      {"data": {"values": [{}]}, "mark": {"type": "text", "text": "Blank (Rapamycin)", "font": "Liberation Serif", "fontSize": 21, "fontWeight": "bold", "align": "center", "baseline": "middle"}, "encoding": {"x": {"datum": 1.82, "type": "quantitative"}, "y": {"datum": 1.775, "type": "quantitative"}}}
    ]}
   ]},
  {"width": 563, "height": 228, "resolve": {"scale": {"x": "independent", "y": "independent"}},
   "layer": [
    {"data": {"name": "mt_a1r"}, "layer": [
      {"mark": {"type": "rect", "color": "#1a1ab8"}, "encoding": {"x": {"datum": 0.005, "type": "quantitative", "scale": {"domain": [0, 1]}, "axis": null}, "x2": {"datum": 0.012}, "y": {"datum": 0.992, "type": "quantitative", "scale": {"domain": [0, 1]}, "axis": null}, "y2": {"datum": 0.905}}},
      {"mark": {"type": "text", "align": "left", "baseline": "top", "font": "DejaVu Sans Mono", "fontSize": 5.3, "fontWeight": "bold", "lineBreak": "\n", "lineHeight": 6.75, "dx": 10, "dy": 2}, "encoding": {"x": {"datum": 0, "type": "quantitative"}, "y": {"datum": 1, "type": "quantitative"}, "text": {"field": "h"}}},
      {"data": {"name": "ml_a1"}, "mark": {"type": "text", "align": "left", "baseline": "top", "font": "DejaVu Sans Mono", "fontSize": 5.9, "lineBreak": "\n", "lineHeight": 6.75, "dx": 4, "dy": 22.25}, "encoding": {"x": {"datum": 0, "type": "quantitative"}, "y": {"datum": 1, "type": "quantitative"}, "text": {"field": "s"}}},
      {"mark": {"type": "text", "align": "left", "baseline": "top", "font": "DejaVu Sans Mono", "fontSize": 5.9, "lineBreak": "\n", "lineHeight": 6.75, "dx": 83, "dy": 22.25}, "encoding": {"x": {"datum": 0, "type": "quantitative"}, "y": {"datum": 1, "type": "quantitative"}, "text": {"field": "v"}}},
      {"data": {"name": "mu_a1r"}, "mark": {"type": "text", "align": "left", "baseline": "top", "font": "DejaVu Sans Mono", "fontSize": 5.9, "lineBreak": "\n", "lineHeight": 6.75, "dx": 124, "dy": 22.25}, "encoding": {"x": {"datum": 0, "type": "quantitative"}, "y": {"datum": 1, "type": "quantitative"}, "text": {"field": "s"}}}
    ]},
    {"layer": [
      {"data": {"name": "tr_a1r"}, "mark": {"type": "line", "color": "#2438ff", "strokeWidth": 1.1, "interpolate": "monotone"},
       "encoding": {"x": {"field": "t", "type": "quantitative", "scale": {"domain": [0, 5.71], "range": [184, 561], "nice": false, "zero": false}, "axis": {"orient": "bottom", "offset": -12, "tickCount": 200, "labelOverlap": false, "values": [0.1,0.2,0.3,0.4,0.5,0.6,0.7,0.8,0.9,1.0,1.1,1.2,1.3,1.4,1.5,1.6,1.7,1.8,1.9,2.0,2.1,2.2,2.3,2.4,2.5,2.6,2.7,2.8,2.9,3.0,3.1,3.2,3.3,3.4,3.5,3.6,3.7,3.8,3.9,4.0,4.1,4.2,4.3,4.4,4.5,4.6,4.7,4.8,4.9,5.0,5.1,5.2,5.3,5.4,5.5,5.6,5.7], "labelExpr": "(round(datum.value*10) % 5 == 0) ? format(datum.value, '.1f') : ''", "title": "Time, min"}},
                    "y": {"field": "y", "type": "quantitative", "scale": {"domain": [0, 2.365], "range": [216, 40], "nice": false, "zero": false}, "axis": {"orient": "left", "offset": -184, "tickCount": 200, "labelOverlap": false, "values": [0,0.2,0.4,0.6,0.8,1.0,1.2,1.4,1.6,1.8,2.0,2.2], "labelExpr": "format(datum.value, '.1f')", "title": "Intensity, cps"}}}},
      {"data": {"name": "lb_a1r"}, "mark": {"type": "text", "font": "Liberation Sans", "fontSize": 5, "fontWeight": "bold", "baseline": "bottom", "dy": -1.5}, "encoding": {"x": {"field": "t", "type": "quantitative"}, "y": {"field": "y", "type": "quantitative"}, "text": {"field": "lab"}}},
      {"data": {"values": [{}]}, "mark": {"type": "text", "text": "Blank - IS (Erythromycin)", "font": "Liberation Serif", "fontSize": 21, "fontWeight": "bold", "align": "center", "baseline": "middle"}, "encoding": {"x": {"datum": 2.59, "type": "quantitative"}, "y": {"datum": 2.5, "type": "quantitative"}}}
    ]}
   ]},
  {"width": 571, "height": 228, "resolve": {"scale": {"x": "independent", "y": "independent"}},
   "layer": [
    {"data": {"name": "mt_a2l"}, "layer": [
      {"mark": {"type": "rect", "color": "#1a1ab8"}, "encoding": {"x": {"datum": 0.005, "type": "quantitative", "scale": {"domain": [0, 1]}, "axis": null}, "x2": {"datum": 0.012}, "y": {"datum": 0.992, "type": "quantitative", "scale": {"domain": [0, 1]}, "axis": null}, "y2": {"datum": 0.905}}},
      {"mark": {"type": "text", "align": "left", "baseline": "top", "font": "DejaVu Sans Mono", "fontSize": 5.3, "fontWeight": "bold", "lineBreak": "\n", "lineHeight": 6.75, "dx": 10, "dy": 2}, "encoding": {"x": {"datum": 0, "type": "quantitative"}, "y": {"datum": 1, "type": "quantitative"}, "text": {"field": "h"}}},
      {"data": {"name": "ml_a"}, "mark": {"type": "text", "align": "left", "baseline": "top", "font": "DejaVu Sans Mono", "fontSize": 5.9, "lineBreak": "\n", "lineHeight": 6.75, "dx": 4, "dy": 22.25}, "encoding": {"x": {"datum": 0, "type": "quantitative"}, "y": {"datum": 1, "type": "quantitative"}, "text": {"field": "s"}}},
      {"mark": {"type": "text", "align": "left", "baseline": "top", "font": "DejaVu Sans Mono", "fontSize": 5.9, "lineBreak": "\n", "lineHeight": 6.75, "dx": 83, "dy": 22.25}, "encoding": {"x": {"datum": 0, "type": "quantitative"}, "y": {"datum": 1, "type": "quantitative"}, "text": {"field": "v"}}},
      {"data": {"name": "mu_al"}, "mark": {"type": "text", "align": "left", "baseline": "top", "font": "DejaVu Sans Mono", "fontSize": 5.9, "lineBreak": "\n", "lineHeight": 6.75, "dx": 124, "dy": 22.25}, "encoding": {"x": {"datum": 0, "type": "quantitative"}, "y": {"datum": 1, "type": "quantitative"}, "text": {"field": "s"}}}
    ]},
    {"layer": [
      {"data": {"name": "tr_a2l"}, "mark": {"type": "line", "color": "#2438ff", "strokeWidth": 1.1, "interpolate": "monotone"},
       "encoding": {"x": {"field": "t", "type": "quantitative", "scale": {"domain": [0, 5.88], "range": [177, 564], "nice": false, "zero": false}, "axis": {"orient": "bottom", "offset": -14, "tickCount": 200, "labelOverlap": false, "values": [0.1,0.2,0.3,0.4,0.5,0.6,0.7,0.8,0.9,1.0,1.1,1.2,1.3,1.4,1.5,1.6,1.7,1.8,1.9,2.0,2.1,2.2,2.3,2.4,2.5,2.6,2.7,2.8,2.9,3.0,3.1,3.2,3.3,3.4,3.5,3.6,3.7,3.8,3.9,4.0,4.1,4.2,4.3,4.4,4.5,4.6,4.7,4.8,4.9,5.0,5.1,5.2,5.3,5.4,5.5,5.6,5.7,5.8], "labelExpr": "(round(datum.value*10) % 5 == 0) ? format(datum.value, '.1f') : ''", "title": "Time, min"}},
                    "y": {"field": "y", "type": "quantitative", "scale": {"domain": [0, 244.5], "range": [214, 36], "nice": false, "zero": false}, "axis": {"orient": "left", "offset": -177, "tickCount": 200, "labelOverlap": false, "values": [0,20,40,60,80,100,120,140,160,180,200,220,240], "labelExpr": "format(datum.value, 'd')", "title": "Intensity, cps"}}}},
      {"data": {"name": "tr_a2l"}, "transform": [{"filter": "datum.t >= 2.82 && datum.t <= 3.55"}], "mark": {"type": "area", "color": "#0000a8", "interpolate": "monotone"}, "encoding": {"x": {"field": "t", "type": "quantitative"}, "y": {"field": "y", "type": "quantitative"}}},
      {"data": {"name": "lb_a2l"}, "mark": {"type": "text", "font": "Liberation Sans", "fontSize": 5, "fontWeight": "bold", "baseline": "bottom", "dy": -1.5}, "encoding": {"x": {"field": "t", "type": "quantitative"}, "y": {"field": "y", "type": "quantitative"}, "text": {"field": "lab"}}},
      {"data": {"values": [{}]}, "mark": {"type": "text", "text": "LLOQ\n(Rapamycin)", "lineBreak": "\n", "lineHeight": 27, "font": "Liberation Serif", "fontSize": 21, "fontWeight": "bold", "align": "center", "baseline": "middle"}, "encoding": {"x": {"datum": 1.37, "type": "quantitative"}, "y": {"datum": 131, "type": "quantitative"}}}
    ]}
   ]},
  {"width": 563, "height": 228, "resolve": {"scale": {"x": "independent", "y": "independent"}},
   "layer": [
    {"data": {"name": "mt_a2r"}, "layer": [
      {"mark": {"type": "rect", "color": "#1a1ab8"}, "encoding": {"x": {"datum": 0.005, "type": "quantitative", "scale": {"domain": [0, 1]}, "axis": null}, "x2": {"datum": 0.012}, "y": {"datum": 0.992, "type": "quantitative", "scale": {"domain": [0, 1]}, "axis": null}, "y2": {"datum": 0.905}}},
      {"mark": {"type": "text", "align": "left", "baseline": "top", "font": "DejaVu Sans Mono", "fontSize": 5.3, "fontWeight": "bold", "lineBreak": "\n", "lineHeight": 6.75, "dx": 10, "dy": 2}, "encoding": {"x": {"datum": 0, "type": "quantitative"}, "y": {"datum": 1, "type": "quantitative"}, "text": {"field": "h"}}},
      {"data": {"name": "ml_a"}, "mark": {"type": "text", "align": "left", "baseline": "top", "font": "DejaVu Sans Mono", "fontSize": 5.9, "lineBreak": "\n", "lineHeight": 6.75, "dx": 4, "dy": 22.25}, "encoding": {"x": {"datum": 0, "type": "quantitative"}, "y": {"datum": 1, "type": "quantitative"}, "text": {"field": "s"}}},
      {"mark": {"type": "text", "align": "left", "baseline": "top", "font": "DejaVu Sans Mono", "fontSize": 5.9, "lineBreak": "\n", "lineHeight": 6.75, "dx": 83, "dy": 22.25}, "encoding": {"x": {"datum": 0, "type": "quantitative"}, "y": {"datum": 1, "type": "quantitative"}, "text": {"field": "v"}}},
      {"data": {"name": "mu_ar"}, "mark": {"type": "text", "align": "left", "baseline": "top", "font": "DejaVu Sans Mono", "fontSize": 5.9, "lineBreak": "\n", "lineHeight": 6.75, "dx": 124, "dy": 22.25}, "encoding": {"x": {"datum": 0, "type": "quantitative"}, "y": {"datum": 1, "type": "quantitative"}, "text": {"field": "s"}}}
    ]},
    {"layer": [
      {"data": {"name": "tr_a2r"}, "mark": {"type": "line", "color": "#2438ff", "strokeWidth": 1.1, "interpolate": "monotone"},
       "encoding": {"x": {"field": "t", "type": "quantitative", "scale": {"domain": [0, 5.66], "range": [185, 561], "nice": false, "zero": false}, "axis": {"orient": "bottom", "offset": -14, "tickCount": 200, "labelOverlap": false, "values": [0.1,0.2,0.3,0.4,0.5,0.6,0.7,0.8,0.9,1.0,1.1,1.2,1.3,1.4,1.5,1.6,1.7,1.8,1.9,2.0,2.1,2.2,2.3,2.4,2.5,2.6,2.7,2.8,2.9,3.0,3.1,3.2,3.3,3.4,3.5,3.6,3.7,3.8,3.9,4.0,4.1,4.2,4.3,4.4,4.5,4.6,4.7,4.8,4.9,5.0,5.1,5.2,5.3,5.4,5.5,5.6], "labelExpr": "(round(datum.value*10) % 5 == 0) ? format(datum.value, '.1f') : ''", "title": "Time, min"}},
                    "y": {"field": "y", "type": "quantitative", "scale": {"domain": [0, 28300], "range": [214, 37], "nice": false, "zero": false}, "axis": {"orient": "left", "offset": -185, "tickCount": 200, "labelOverlap": false, "values": [0,2000,4000,6000,8000,10000,12000,14000,16000,18000,20000,22000,24000,26000,28000], "labelExpr": "datum.value >= 10000 ? format(datum.value/10000, '.1f') + 'e4' : format(datum.value, '.1f')", "title": "Intensity, cps"}}}},
      {"data": {"name": "tr_a2r"}, "transform": [{"filter": "datum.t >= 1.08 && datum.t <= 2.0"}], "mark": {"type": "area", "color": "#0000a8", "interpolate": "monotone"}, "encoding": {"x": {"field": "t", "type": "quantitative"}, "y": {"field": "y", "type": "quantitative"}}},
      {"data": {"name": "lb_a2r"}, "mark": {"type": "text", "font": "Liberation Sans", "fontSize": 5, "fontWeight": "bold", "baseline": "bottom", "dy": -1.5}, "encoding": {"x": {"field": "t", "type": "quantitative"}, "y": {"field": "y", "type": "quantitative"}, "text": {"field": "lab"}}},
      {"data": {"values": [{}]}, "mark": {"type": "text", "text": "IS  (Erythromycin)", "font": "Liberation Serif", "fontSize": 21, "fontWeight": "bold", "align": "center", "baseline": "middle"}, "encoding": {"x": {"datum": 3.25, "type": "quantitative"}, "y": {"datum": 16700, "type": "quantitative"}}}
    ]}
   ]},
  {"width": 571, "height": 228, "resolve": {"scale": {"x": "independent", "y": "independent"}},
   "layer": [
    {"data": {"name": "mt_a3l"}, "layer": [
      {"mark": {"type": "rect", "color": "#1a1ab8"}, "encoding": {"x": {"datum": 0.005, "type": "quantitative", "scale": {"domain": [0, 1]}, "axis": null}, "x2": {"datum": 0.012}, "y": {"datum": 0.992, "type": "quantitative", "scale": {"domain": [0, 1]}, "axis": null}, "y2": {"datum": 0.905}}},
      {"mark": {"type": "text", "align": "left", "baseline": "top", "font": "DejaVu Sans Mono", "fontSize": 5.3, "fontWeight": "bold", "lineBreak": "\n", "lineHeight": 6.75, "dx": 10, "dy": 2}, "encoding": {"x": {"datum": 0, "type": "quantitative"}, "y": {"datum": 1, "type": "quantitative"}, "text": {"field": "h"}}},
      {"data": {"name": "ml_a"}, "mark": {"type": "text", "align": "left", "baseline": "top", "font": "DejaVu Sans Mono", "fontSize": 5.9, "lineBreak": "\n", "lineHeight": 6.75, "dx": 4, "dy": 22.25}, "encoding": {"x": {"datum": 0, "type": "quantitative"}, "y": {"datum": 1, "type": "quantitative"}, "text": {"field": "s"}}},
      {"mark": {"type": "text", "align": "left", "baseline": "top", "font": "DejaVu Sans Mono", "fontSize": 5.9, "lineBreak": "\n", "lineHeight": 6.75, "dx": 83, "dy": 22.25}, "encoding": {"x": {"datum": 0, "type": "quantitative"}, "y": {"datum": 1, "type": "quantitative"}, "text": {"field": "v"}}},
      {"data": {"name": "mu_al"}, "mark": {"type": "text", "align": "left", "baseline": "top", "font": "DejaVu Sans Mono", "fontSize": 5.9, "lineBreak": "\n", "lineHeight": 6.75, "dx": 124, "dy": 22.25}, "encoding": {"x": {"datum": 0, "type": "quantitative"}, "y": {"datum": 1, "type": "quantitative"}, "text": {"field": "s"}}}
    ]},
    {"layer": [
      {"data": {"name": "tr_a3l"}, "mark": {"type": "line", "color": "#2438ff", "strokeWidth": 1.1, "interpolate": "monotone"},
       "encoding": {"x": {"field": "t", "type": "quantitative", "scale": {"domain": [0, 5.86], "range": [178, 564], "nice": false, "zero": false}, "axis": {"orient": "bottom", "offset": -16, "tickCount": 200, "labelOverlap": false, "values": [0.1,0.2,0.3,0.4,0.5,0.6,0.7,0.8,0.9,1.0,1.1,1.2,1.3,1.4,1.5,1.6,1.7,1.8,1.9,2.0,2.1,2.2,2.3,2.4,2.5,2.6,2.7,2.8,2.9,3.0,3.1,3.2,3.3,3.4,3.5,3.6,3.7,3.8,3.9,4.0,4.1,4.2,4.3,4.4,4.5,4.6,4.7,4.8,4.9,5.0,5.1,5.2,5.3,5.4,5.5,5.6,5.7,5.8], "labelExpr": "(round(datum.value*10) % 5 == 0) ? format(datum.value, '.1f') : ''", "title": "Time, min"}},
                    "y": {"field": "y", "type": "quantitative", "scale": {"domain": [0, 14200], "range": [212, 35], "nice": false, "zero": false}, "axis": {"orient": "left", "offset": -178, "tickCount": 200, "labelOverlap": false, "values": [0,1000,2000,3000,4000,5000,6000,7000,8000,9000,10000,11000,12000,13000], "labelExpr": "datum.value >= 10000 ? format(datum.value/10000, '.1f') + 'e4' : format(datum.value, '.1f')", "title": "Intensity, cps"}}}},
      {"data": {"name": "tr_a3l"}, "transform": [{"filter": "datum.t >= 2.75 && datum.t <= 3.46"}], "mark": {"type": "area", "color": "#0000a8", "interpolate": "monotone"}, "encoding": {"x": {"field": "t", "type": "quantitative"}, "y": {"field": "y", "type": "quantitative"}}},
      {"data": {"name": "lb_a3l"}, "mark": {"type": "text", "font": "Liberation Sans", "fontSize": 5, "fontWeight": "bold", "baseline": "bottom", "dy": -1.5}, "encoding": {"x": {"field": "t", "type": "quantitative"}, "y": {"field": "y", "type": "quantitative"}, "text": {"field": "lab"}}},
      {"data": {"values": [{}]}, "mark": {"type": "text", "text": "ULOQ\n(Rapamycin)", "lineBreak": "\n", "lineHeight": 27, "font": "Liberation Serif", "fontSize": 21, "fontWeight": "bold", "align": "center", "baseline": "middle"}, "encoding": {"x": {"datum": 1.37, "type": "quantitative"}, "y": {"datum": 8200, "type": "quantitative"}}}
    ]}
   ]},
  {"width": 563, "height": 228, "resolve": {"scale": {"x": "independent", "y": "independent"}},
   "layer": [
    {"data": {"name": "mt_a3r"}, "layer": [
      {"mark": {"type": "rect", "color": "#1a1ab8"}, "encoding": {"x": {"datum": 0.005, "type": "quantitative", "scale": {"domain": [0, 1]}, "axis": null}, "x2": {"datum": 0.012}, "y": {"datum": 0.992, "type": "quantitative", "scale": {"domain": [0, 1]}, "axis": null}, "y2": {"datum": 0.905}}},
      {"mark": {"type": "text", "align": "left", "baseline": "top", "font": "DejaVu Sans Mono", "fontSize": 5.3, "fontWeight": "bold", "lineBreak": "\n", "lineHeight": 6.75, "dx": 10, "dy": 2}, "encoding": {"x": {"datum": 0, "type": "quantitative"}, "y": {"datum": 1, "type": "quantitative"}, "text": {"field": "h"}}},
      {"data": {"name": "ml_a"}, "mark": {"type": "text", "align": "left", "baseline": "top", "font": "DejaVu Sans Mono", "fontSize": 5.9, "lineBreak": "\n", "lineHeight": 6.75, "dx": 4, "dy": 22.25}, "encoding": {"x": {"datum": 0, "type": "quantitative"}, "y": {"datum": 1, "type": "quantitative"}, "text": {"field": "s"}}},
      {"mark": {"type": "text", "align": "left", "baseline": "top", "font": "DejaVu Sans Mono", "fontSize": 5.9, "lineBreak": "\n", "lineHeight": 6.75, "dx": 83, "dy": 22.25}, "encoding": {"x": {"datum": 0, "type": "quantitative"}, "y": {"datum": 1, "type": "quantitative"}, "text": {"field": "v"}}},
      {"data": {"name": "mu_ar"}, "mark": {"type": "text", "align": "left", "baseline": "top", "font": "DejaVu Sans Mono", "fontSize": 5.9, "lineBreak": "\n", "lineHeight": 6.75, "dx": 124, "dy": 22.25}, "encoding": {"x": {"datum": 0, "type": "quantitative"}, "y": {"datum": 1, "type": "quantitative"}, "text": {"field": "s"}}}
    ]},
    {"layer": [
      {"data": {"name": "tr_a3r"}, "mark": {"type": "line", "color": "#2438ff", "strokeWidth": 1.1, "interpolate": "monotone"},
       "encoding": {"x": {"field": "t", "type": "quantitative", "scale": {"domain": [0, 5.66], "range": [185, 561], "nice": false, "zero": false}, "axis": {"orient": "bottom", "offset": -16, "tickCount": 200, "labelOverlap": false, "values": [0.1,0.2,0.3,0.4,0.5,0.6,0.7,0.8,0.9,1.0,1.1,1.2,1.3,1.4,1.5,1.6,1.7,1.8,1.9,2.0,2.1,2.2,2.3,2.4,2.5,2.6,2.7,2.8,2.9,3.0,3.1,3.2,3.3,3.4,3.5,3.6,3.7,3.8,3.9,4.0,4.1,4.2,4.3,4.4,4.5,4.6,4.7,4.8,4.9,5.0,5.1,5.2,5.3,5.4,5.5,5.6], "labelExpr": "(round(datum.value*10) % 5 == 0) ? format(datum.value, '.1f') : ''", "title": "Time, min"}},
                    "y": {"field": "y", "type": "quantitative", "scale": {"domain": [0, 12400], "range": [212, 36], "nice": false, "zero": false}, "axis": {"orient": "left", "offset": -185, "tickCount": 200, "labelOverlap": false, "values": [0,1000,2000,3000,4000,5000,6000,7000,8000,9000,10000,11000,12000], "labelExpr": "datum.value >= 10000 ? format(datum.value/10000, '.2f') + 'e4' : format(datum.value, '.2f')", "title": "Intensity, cps"}}}},
      {"data": {"name": "tr_a3r"}, "transform": [{"filter": "datum.t >= 1.15 && datum.t <= 2.0"}], "mark": {"type": "area", "color": "#0000a8", "interpolate": "monotone"}, "encoding": {"x": {"field": "t", "type": "quantitative"}, "y": {"field": "y", "type": "quantitative"}}},
      {"data": {"name": "lb_a3r"}, "mark": {"type": "text", "font": "Liberation Sans", "fontSize": 5, "fontWeight": "bold", "baseline": "bottom", "dy": -1.5}, "encoding": {"x": {"field": "t", "type": "quantitative"}, "y": {"field": "y", "type": "quantitative"}, "text": {"field": "lab"}}},
      {"data": {"values": [{}]}, "mark": {"type": "text", "text": "IS  (Erythromycin)", "font": "Liberation Serif", "fontSize": 21, "fontWeight": "bold", "align": "center", "baseline": "middle"}, "encoding": {"x": {"datum": 3.43, "type": "quantitative"}, "y": {"datum": 6990, "type": "quantitative"}}}
    ]}
   ]}
]
},
{
"title": {"text": "B", "orient": "left", "anchor": "end", "angle": 0, "align": "right", "baseline": "top", "font": "Liberation Sans", "fontSize": 20, "fontWeight": "normal", "color": "#000", "offset": 3, "dy": 0},
"columns": 2, "spacing": 2, "bounds": "flush",
"concat": [
  {"width": 571, "height": 175, "resolve": {"scale": {"x": "independent", "y": "independent"}},
   "layer": [
    {"data": {"name": "mt_b1l"}, "layer": [
      {"mark": {"type": "rect", "color": "#1a1ab8"}, "encoding": {"x": {"datum": 0.005, "type": "quantitative", "scale": {"domain": [0, 1]}, "axis": null}, "x2": {"datum": 0.012}, "y": {"datum": 0.99, "type": "quantitative", "scale": {"domain": [0, 1]}, "axis": null}, "y2": {"datum": 0.87}}},
      {"mark": {"type": "text", "align": "left", "baseline": "top", "font": "DejaVu Sans Mono", "fontSize": 5.3, "fontWeight": "bold", "lineBreak": "\n", "lineHeight": 7.1, "dx": 10, "dy": 2}, "encoding": {"x": {"datum": 0, "type": "quantitative"}, "y": {"datum": 1, "type": "quantitative"}, "text": {"field": "h"}}},
      {"data": {"name": "ml_b"}, "mark": {"type": "text", "align": "left", "baseline": "top", "font": "DejaVu Sans Mono", "fontSize": 5.9, "lineBreak": "\n", "lineHeight": 7.1, "dx": 4, "dy": 23.3}, "encoding": {"x": {"datum": 0, "type": "quantitative"}, "y": {"datum": 1, "type": "quantitative"}, "text": {"field": "s"}}},
      {"mark": {"type": "text", "align": "left", "baseline": "top", "font": "DejaVu Sans Mono", "fontSize": 5.9, "lineBreak": "\n", "lineHeight": 7.1, "dx": 83, "dy": 23.3}, "encoding": {"x": {"datum": 0, "type": "quantitative"}, "y": {"datum": 1, "type": "quantitative"}, "text": {"field": "v"}}},
      {"data": {"name": "mu_bl"}, "mark": {"type": "text", "align": "left", "baseline": "top", "font": "DejaVu Sans Mono", "fontSize": 5.9, "lineBreak": "\n", "lineHeight": 7.1, "dx": 124, "dy": 23.3}, "encoding": {"x": {"datum": 0, "type": "quantitative"}, "y": {"datum": 1, "type": "quantitative"}, "text": {"field": "s"}}}
    ]},
    {"layer": [
      {"data": {"name": "tr_b1l"}, "mark": {"type": "line", "color": "#2438ff", "strokeWidth": 1.2, "interpolate": "monotone"},
       "encoding": {"x": {"field": "t", "type": "quantitative", "scale": {"domain": [0.08, 5.88], "range": [182, 564], "nice": false, "zero": false}, "axis": {"orient": "bottom", "offset": -9, "tickCount": 200, "labelOverlap": false, "values": [0.1,0.2,0.3,0.4,0.5,0.6,0.7,0.8,0.9,1.0,1.1,1.2,1.3,1.4,1.5,1.6,1.7,1.8,1.9,2.0,2.1,2.2,2.3,2.4,2.5,2.6,2.7,2.8,2.9,3.0,3.1,3.2,3.3,3.4,3.5,3.6,3.7,3.8,3.9,4.0,4.1,4.2,4.3,4.4,4.5,4.6,4.7,4.8,4.9,5.0,5.1,5.2,5.3,5.4,5.5,5.6,5.7,5.8], "labelExpr": "(round(datum.value*10) % 5 == 0) ? format(datum.value, '.1f') : ''", "title": "Time, min"}},
                    "y": {"field": "y", "type": "quantitative", "scale": {"domain": [0, 13.8], "range": [166, 40], "nice": false, "zero": false}, "axis": {"orient": "left", "offset": -182, "tickCount": 200, "labelOverlap": false, "values": [0,2,4,6,8,10,12], "labelExpr": "format(datum.value, 'd')", "title": "Intensity, cps"}}}},
      {"data": {"name": "ar_b1l"}, "mark": {"type": "area", "color": "#0000a8", "interpolate": "monotone"}, "encoding": {"x": {"field": "t", "type": "quantitative"}, "y": {"field": "y", "type": "quantitative"}, "y2": {"field": "b"}}},
      {"data": {"name": "rl_b1l"}, "mark": {"type": "rule", "color": "#000", "strokeWidth": 1.3}, "encoding": {"x": {"field": "t", "type": "quantitative"}, "y": {"field": "y", "type": "quantitative"}, "x2": {"field": "t2"}, "y2": {"field": "y2"}}},
      {"data": {"values": [{}]}, "mark": {"type": "text", "text": "LLOQQC(2.3ng/ml)\nRapamycin", "lineBreak": "\n", "lineHeight": 32, "font": "Lato", "fontSize": 23, "color": "#1b1bcc", "align": "left", "baseline": "middle"}, "encoding": {"x": {"datum": 0.28, "type": "quantitative"}, "y": {"datum": 14.0, "type": "quantitative"}}}
    ]}
   ]},
  {"width": 563, "height": 175, "resolve": {"scale": {"x": "independent", "y": "independent"}},
   "layer": [
    {"data": {"name": "mt_b1r"}, "layer": [
      {"mark": {"type": "rect", "color": "#1a1ab8"}, "encoding": {"x": {"datum": 0.005, "type": "quantitative", "scale": {"domain": [0, 1]}, "axis": null}, "x2": {"datum": 0.012}, "y": {"datum": 0.99, "type": "quantitative", "scale": {"domain": [0, 1]}, "axis": null}, "y2": {"datum": 0.87}}},
      {"mark": {"type": "text", "align": "left", "baseline": "top", "font": "DejaVu Sans Mono", "fontSize": 5.3, "fontWeight": "bold", "lineBreak": "\n", "lineHeight": 7.1, "dx": 10, "dy": 2}, "encoding": {"x": {"datum": 0, "type": "quantitative"}, "y": {"datum": 1, "type": "quantitative"}, "text": {"field": "h"}}},
      {"data": {"name": "ml_b"}, "mark": {"type": "text", "align": "left", "baseline": "top", "font": "DejaVu Sans Mono", "fontSize": 5.9, "lineBreak": "\n", "lineHeight": 7.1, "dx": 4, "dy": 23.3}, "encoding": {"x": {"datum": 0, "type": "quantitative"}, "y": {"datum": 1, "type": "quantitative"}, "text": {"field": "s"}}},
      {"mark": {"type": "text", "align": "left", "baseline": "top", "font": "DejaVu Sans Mono", "fontSize": 5.9, "lineBreak": "\n", "lineHeight": 7.1, "dx": 83, "dy": 23.3}, "encoding": {"x": {"datum": 0, "type": "quantitative"}, "y": {"datum": 1, "type": "quantitative"}, "text": {"field": "v"}}},
      {"data": {"name": "mu_br"}, "mark": {"type": "text", "align": "left", "baseline": "top", "font": "DejaVu Sans Mono", "fontSize": 5.9, "lineBreak": "\n", "lineHeight": 7.1, "dx": 124, "dy": 23.3}, "encoding": {"x": {"datum": 0, "type": "quantitative"}, "y": {"datum": 1, "type": "quantitative"}, "text": {"field": "s"}}}
    ]},
    {"layer": [
      {"data": {"name": "tr_b1r"}, "mark": {"type": "line", "color": "#2438ff", "strokeWidth": 1.2, "interpolate": "monotone"},
       "encoding": {"x": {"field": "t", "type": "quantitative", "scale": {"domain": [0, 5.71], "range": [185, 561], "nice": false, "zero": false}, "axis": {"orient": "bottom", "offset": -10, "tickCount": 200, "labelOverlap": false, "values": [0.1,0.2,0.3,0.4,0.5,0.6,0.7,0.8,0.9,1.0,1.1,1.2,1.3,1.4,1.5,1.6,1.7,1.8,1.9,2.0,2.1,2.2,2.3,2.4,2.5,2.6,2.7,2.8,2.9,3.0,3.1,3.2,3.3,3.4,3.5,3.6,3.7,3.8,3.9,4.0,4.1,4.2,4.3,4.4,4.5,4.6,4.7,4.8,4.9,5.0,5.1,5.2,5.3,5.4,5.5,5.6,5.7], "labelExpr": "(round(datum.value*10) % 5 == 0) ? format(datum.value, '.1f') : ''", "title": "Time, min"}},
                    "y": {"field": "y", "type": "quantitative", "scale": {"domain": [0, 3860], "range": [165, 40], "nice": false, "zero": false}, "axis": {"orient": "left", "offset": -185, "tickCount": 200, "labelOverlap": false, "values": [0,500,1000,1500,2000,2500,3000,3500], "labelExpr": "format(datum.value, 'd')", "title": "Intensity, cps"}}}},
      {"data": {"name": "tr_b1r"}, "transform": [{"filter": "datum.t >= 1.96 && datum.t <= 3.1"}], "mark": {"type": "area", "color": "#0000a8", "interpolate": "monotone"}, "encoding": {"x": {"field": "t", "type": "quantitative"}, "y": {"field": "y", "type": "quantitative"}}},
      {"data": {"name": "lb_b1r"}, "mark": {"type": "text", "font": "Liberation Sans", "fontSize": 5, "fontWeight": "bold", "baseline": "bottom", "dy": -1.5}, "encoding": {"x": {"field": "t", "type": "quantitative"}, "y": {"field": "y", "type": "quantitative"}, "text": {"field": "lab"}}},
      {"data": {"values": [{}]}, "mark": {"type": "text", "text": "Erythromycin(IS)", "font": "Lato", "fontSize": 23, "color": "#1b1bcc", "align": "left", "baseline": "middle"}, "encoding": {"x": {"datum": 2.38, "type": "quantitative"}, "y": {"datum": 3611, "type": "quantitative"}}}
    ]}
   ]},
  {"width": 571, "height": 178, "resolve": {"scale": {"x": "independent", "y": "independent"}},
   "layer": [
    {"data": {"name": "mt_b2l"}, "layer": [
      {"mark": {"type": "rect", "color": "#1a1ab8"}, "encoding": {"x": {"datum": 0.005, "type": "quantitative", "scale": {"domain": [0, 1]}, "axis": null}, "x2": {"datum": 0.012}, "y": {"datum": 0.99, "type": "quantitative", "scale": {"domain": [0, 1]}, "axis": null}, "y2": {"datum": 0.87}}},
      {"mark": {"type": "text", "align": "left", "baseline": "top", "font": "DejaVu Sans Mono", "fontSize": 5.3, "fontWeight": "bold", "lineBreak": "\n", "lineHeight": 7.1, "dx": 10, "dy": 2}, "encoding": {"x": {"datum": 0, "type": "quantitative"}, "y": {"datum": 1, "type": "quantitative"}, "text": {"field": "h"}}},
      {"data": {"name": "ml_b"}, "mark": {"type": "text", "align": "left", "baseline": "top", "font": "DejaVu Sans Mono", "fontSize": 5.9, "lineBreak": "\n", "lineHeight": 7.1, "dx": 4, "dy": 23.3}, "encoding": {"x": {"datum": 0, "type": "quantitative"}, "y": {"datum": 1, "type": "quantitative"}, "text": {"field": "s"}}},
      {"mark": {"type": "text", "align": "left", "baseline": "top", "font": "DejaVu Sans Mono", "fontSize": 5.9, "lineBreak": "\n", "lineHeight": 7.1, "dx": 83, "dy": 23.3}, "encoding": {"x": {"datum": 0, "type": "quantitative"}, "y": {"datum": 1, "type": "quantitative"}, "text": {"field": "v"}}},
      {"data": {"name": "mu_bl"}, "mark": {"type": "text", "align": "left", "baseline": "top", "font": "DejaVu Sans Mono", "fontSize": 5.9, "lineBreak": "\n", "lineHeight": 7.1, "dx": 124, "dy": 23.3}, "encoding": {"x": {"datum": 0, "type": "quantitative"}, "y": {"datum": 1, "type": "quantitative"}, "text": {"field": "s"}}}
    ]},
    {"layer": [
      {"data": {"name": "tr_b2l"}, "mark": {"type": "line", "color": "#2438ff", "strokeWidth": 1.2, "interpolate": "monotone"},
       "encoding": {"x": {"field": "t", "type": "quantitative", "scale": {"domain": [0.03, 5.86], "range": [180, 564], "nice": false, "zero": false}, "axis": {"orient": "bottom", "offset": -11, "tickCount": 200, "labelOverlap": false, "values": [0.1,0.2,0.3,0.4,0.5,0.6,0.7,0.8,0.9,1.0,1.1,1.2,1.3,1.4,1.5,1.6,1.7,1.8,1.9,2.0,2.1,2.2,2.3,2.4,2.5,2.6,2.7,2.8,2.9,3.0,3.1,3.2,3.3,3.4,3.5,3.6,3.7,3.8,3.9,4.0,4.1,4.2,4.3,4.4,4.5,4.6,4.7,4.8,4.9,5.0,5.1,5.2,5.3,5.4,5.5,5.6,5.7,5.8], "labelExpr": "(round(datum.value*10) % 5 == 0) ? format(datum.value, '.1f') : ''", "title": "Time, min"}},
                    "y": {"field": "y", "type": "quantitative", "scale": {"domain": [0, 43.8], "range": [167, 41], "nice": false, "zero": false}, "axis": {"orient": "left", "offset": -180, "tickCount": 200, "labelOverlap": false, "values": [0,5,10,15,20,25,30,35,40], "labelExpr": "format(datum.value, 'd')", "title": "Intensity, cps"}}}},
      {"data": {"name": "ar_b2l"}, "mark": {"type": "area", "color": "#0000a8", "interpolate": "monotone"}, "encoding": {"x": {"field": "t", "type": "quantitative"}, "y": {"field": "y", "type": "quantitative"}, "y2": {"field": "b"}}},
      {"data": {"name": "rl_b2l"}, "mark": {"type": "rule", "color": "#000", "strokeWidth": 1.3}, "encoding": {"x": {"field": "t", "type": "quantitative"}, "y": {"field": "y", "type": "quantitative"}, "x2": {"field": "t2"}, "y2": {"field": "y2"}}},
      {"data": {"values": [{}]}, "mark": {"type": "text", "text": "LQC(10ng/ml)\nRapamycin", "lineBreak": "\n", "lineHeight": 33, "font": "Lato", "fontSize": 23, "color": "#1b1bcc", "align": "left", "baseline": "middle"}, "encoding": {"x": {"datum": 0.23, "type": "quantitative"}, "y": {"datum": 43.6, "type": "quantitative"}}}
    ]}
   ]},
  {"width": 563, "height": 178, "resolve": {"scale": {"x": "independent", "y": "independent"}},
   "layer": [
    {"data": {"name": "mt_b2r"}, "layer": [
      {"mark": {"type": "rect", "color": "#1a1ab8"}, "encoding": {"x": {"datum": 0.005, "type": "quantitative", "scale": {"domain": [0, 1]}, "axis": null}, "x2": {"datum": 0.012}, "y": {"datum": 0.99, "type": "quantitative", "scale": {"domain": [0, 1]}, "axis": null}, "y2": {"datum": 0.87}}},
      {"mark": {"type": "text", "align": "left", "baseline": "top", "font": "DejaVu Sans Mono", "fontSize": 5.3, "fontWeight": "bold", "lineBreak": "\n", "lineHeight": 7.1, "dx": 10, "dy": 2}, "encoding": {"x": {"datum": 0, "type": "quantitative"}, "y": {"datum": 1, "type": "quantitative"}, "text": {"field": "h"}}},
      {"data": {"name": "ml_b"}, "mark": {"type": "text", "align": "left", "baseline": "top", "font": "DejaVu Sans Mono", "fontSize": 5.9, "lineBreak": "\n", "lineHeight": 7.1, "dx": 4, "dy": 23.3}, "encoding": {"x": {"datum": 0, "type": "quantitative"}, "y": {"datum": 1, "type": "quantitative"}, "text": {"field": "s"}}},
      {"mark": {"type": "text", "align": "left", "baseline": "top", "font": "DejaVu Sans Mono", "fontSize": 5.9, "lineBreak": "\n", "lineHeight": 7.1, "dx": 83, "dy": 23.3}, "encoding": {"x": {"datum": 0, "type": "quantitative"}, "y": {"datum": 1, "type": "quantitative"}, "text": {"field": "v"}}},
      {"data": {"name": "mu_br"}, "mark": {"type": "text", "align": "left", "baseline": "top", "font": "DejaVu Sans Mono", "fontSize": 5.9, "lineBreak": "\n", "lineHeight": 7.1, "dx": 124, "dy": 23.3}, "encoding": {"x": {"datum": 0, "type": "quantitative"}, "y": {"datum": 1, "type": "quantitative"}, "text": {"field": "s"}}}
    ]},
    {"layer": [
      {"data": {"name": "tr_b2r"}, "mark": {"type": "line", "color": "#2438ff", "strokeWidth": 1.2, "interpolate": "monotone"},
       "encoding": {"x": {"field": "t", "type": "quantitative", "scale": {"domain": [0, 5.71], "range": [185, 561], "nice": false, "zero": false}, "axis": {"orient": "bottom", "offset": -10, "tickCount": 200, "labelOverlap": false, "values": [0.1,0.2,0.3,0.4,0.5,0.6,0.7,0.8,0.9,1.0,1.1,1.2,1.3,1.4,1.5,1.6,1.7,1.8,1.9,2.0,2.1,2.2,2.3,2.4,2.5,2.6,2.7,2.8,2.9,3.0,3.1,3.2,3.3,3.4,3.5,3.6,3.7,3.8,3.9,4.0,4.1,4.2,4.3,4.4,4.5,4.6,4.7,4.8,4.9,5.0,5.1,5.2,5.3,5.4,5.5,5.6,5.7], "labelExpr": "(round(datum.value*10) % 5 == 0) ? format(datum.value, '.1f') : ''", "title": "Time, min"}},
                    "y": {"field": "y", "type": "quantitative", "scale": {"domain": [0, 3890], "range": [168, 42], "nice": false, "zero": false}, "axis": {"orient": "left", "offset": -185, "tickCount": 200, "labelOverlap": false, "values": [0,500,1000,1500,2000,2500,3000,3500], "labelExpr": "format(datum.value, 'd')", "title": "Intensity, cps"}}}},
      {"data": {"name": "tr_b2r"}, "transform": [{"filter": "datum.t >= 1.95 && datum.t <= 3.0"}], "mark": {"type": "area", "color": "#0000a8", "interpolate": "monotone"}, "encoding": {"x": {"field": "t", "type": "quantitative"}, "y": {"field": "y", "type": "quantitative"}}},
      {"data": {"name": "lb_b2r"}, "mark": {"type": "text", "font": "Liberation Sans", "fontSize": 5, "fontWeight": "bold", "baseline": "bottom", "dy": -1.5}, "encoding": {"x": {"field": "t", "type": "quantitative"}, "y": {"field": "y", "type": "quantitative"}, "text": {"field": "lab"}}},
      {"data": {"values": [{}]}, "mark": {"type": "text", "text": "Erythromycin(IS)", "font": "Lato", "fontSize": 23, "color": "#1b1bcc", "align": "left", "baseline": "middle"}, "encoding": {"x": {"datum": 2.29, "type": "quantitative"}, "y": {"datum": 2840, "type": "quantitative"}}}
    ]}
   ]},
  {"width": 571, "height": 178, "resolve": {"scale": {"x": "independent", "y": "independent"}},
   "layer": [
    {"data": {"name": "mt_b3l"}, "layer": [
      {"mark": {"type": "rect", "color": "#1a1ab8"}, "encoding": {"x": {"datum": 0.005, "type": "quantitative", "scale": {"domain": [0, 1]}, "axis": null}, "x2": {"datum": 0.012}, "y": {"datum": 0.99, "type": "quantitative", "scale": {"domain": [0, 1]}, "axis": null}, "y2": {"datum": 0.87}}},
      {"mark": {"type": "text", "align": "left", "baseline": "top", "font": "DejaVu Sans Mono", "fontSize": 5.3, "fontWeight": "bold", "lineBreak": "\n", "lineHeight": 7.1, "dx": 10, "dy": 2}, "encoding": {"x": {"datum": 0, "type": "quantitative"}, "y": {"datum": 1, "type": "quantitative"}, "text": {"field": "h"}}},
      {"data": {"name": "ml_b"}, "mark": {"type": "text", "align": "left", "baseline": "top", "font": "DejaVu Sans Mono", "fontSize": 5.9, "lineBreak": "\n", "lineHeight": 7.1, "dx": 4, "dy": 23.3}, "encoding": {"x": {"datum": 0, "type": "quantitative"}, "y": {"datum": 1, "type": "quantitative"}, "text": {"field": "s"}}},
      {"mark": {"type": "text", "align": "left", "baseline": "top", "font": "DejaVu Sans Mono", "fontSize": 5.9, "lineBreak": "\n", "lineHeight": 7.1, "dx": 83, "dy": 23.3}, "encoding": {"x": {"datum": 0, "type": "quantitative"}, "y": {"datum": 1, "type": "quantitative"}, "text": {"field": "v"}}},
      {"data": {"name": "mu_bl"}, "mark": {"type": "text", "align": "left", "baseline": "top", "font": "DejaVu Sans Mono", "fontSize": 5.9, "lineBreak": "\n", "lineHeight": 7.1, "dx": 124, "dy": 23.3}, "encoding": {"x": {"datum": 0, "type": "quantitative"}, "y": {"datum": 1, "type": "quantitative"}, "text": {"field": "s"}}}
    ]},
    {"layer": [
      {"data": {"name": "tr_b3l"}, "mark": {"type": "line", "color": "#2438ff", "strokeWidth": 1.2, "interpolate": "monotone"},
       "encoding": {"x": {"field": "t", "type": "quantitative", "scale": {"domain": [0.04, 5.88], "range": [179, 564], "nice": false, "zero": false}, "axis": {"orient": "bottom", "offset": -12, "tickCount": 200, "labelOverlap": false, "values": [0.1,0.2,0.3,0.4,0.5,0.6,0.7,0.8,0.9,1.0,1.1,1.2,1.3,1.4,1.5,1.6,1.7,1.8,1.9,2.0,2.1,2.2,2.3,2.4,2.5,2.6,2.7,2.8,2.9,3.0,3.1,3.2,3.3,3.4,3.5,3.6,3.7,3.8,3.9,4.0,4.1,4.2,4.3,4.4,4.5,4.6,4.7,4.8,4.9,5.0,5.1,5.2,5.3,5.4,5.5,5.6,5.7,5.8], "labelExpr": "(round(datum.value*10) % 5 == 0) ? format(datum.value, '.1f') : ''", "title": "Time, min"}},
                    "y": {"field": "y", "type": "quantitative", "scale": {"domain": [0, 163], "range": [166, 41], "nice": false, "zero": false}, "axis": {"orient": "left", "offset": -179, "tickCount": 200, "labelOverlap": false, "values": [0,20,40,60,80,100,120,140], "labelExpr": "format(datum.value, 'd')", "title": "Intensity, cps"}}}},
      {"data": {"name": "tr_b3l"}, "transform": [{"filter": "datum.t >= 2.68 && datum.t <= 3.4"}], "mark": {"type": "area", "color": "#0000a8", "interpolate": "monotone"}, "encoding": {"x": {"field": "t", "type": "quantitative"}, "y": {"field": "y", "type": "quantitative"}}},
      {"data": {"values": [{}]}, "mark": {"type": "text", "text": "MQC(480ng/ml)\nRapamycin", "lineBreak": "\n", "lineHeight": 33, "font": "Lato", "fontSize": 23, "color": "#1b1bcc", "align": "left", "baseline": "middle"}, "encoding": {"x": {"datum": 0.25, "type": "quantitative"}, "y": {"datum": 158.4, "type": "quantitative"}}}
    ]}
   ]},
  {"width": 563, "height": 178, "resolve": {"scale": {"x": "independent", "y": "independent"}},
   "layer": [
    {"data": {"name": "mt_b3r"}, "layer": [
      {"mark": {"type": "rect", "color": "#1a1ab8"}, "encoding": {"x": {"datum": 0.005, "type": "quantitative", "scale": {"domain": [0, 1]}, "axis": null}, "x2": {"datum": 0.012}, "y": {"datum": 0.99, "type": "quantitative", "scale": {"domain": [0, 1]}, "axis": null}, "y2": {"datum": 0.87}}},
      {"mark": {"type": "text", "align": "left", "baseline": "top", "font": "DejaVu Sans Mono", "fontSize": 5.3, "fontWeight": "bold", "lineBreak": "\n", "lineHeight": 7.1, "dx": 10, "dy": 2}, "encoding": {"x": {"datum": 0, "type": "quantitative"}, "y": {"datum": 1, "type": "quantitative"}, "text": {"field": "h"}}},
      {"data": {"name": "ml_b"}, "mark": {"type": "text", "align": "left", "baseline": "top", "font": "DejaVu Sans Mono", "fontSize": 5.9, "lineBreak": "\n", "lineHeight": 7.1, "dx": 4, "dy": 23.3}, "encoding": {"x": {"datum": 0, "type": "quantitative"}, "y": {"datum": 1, "type": "quantitative"}, "text": {"field": "s"}}},
      {"mark": {"type": "text", "align": "left", "baseline": "top", "font": "DejaVu Sans Mono", "fontSize": 5.9, "lineBreak": "\n", "lineHeight": 7.1, "dx": 83, "dy": 23.3}, "encoding": {"x": {"datum": 0, "type": "quantitative"}, "y": {"datum": 1, "type": "quantitative"}, "text": {"field": "v"}}},
      {"data": {"name": "mu_br"}, "mark": {"type": "text", "align": "left", "baseline": "top", "font": "DejaVu Sans Mono", "fontSize": 5.9, "lineBreak": "\n", "lineHeight": 7.1, "dx": 124, "dy": 23.3}, "encoding": {"x": {"datum": 0, "type": "quantitative"}, "y": {"datum": 1, "type": "quantitative"}, "text": {"field": "s"}}}
    ]},
    {"layer": [
      {"data": {"name": "tr_b3r"}, "mark": {"type": "line", "color": "#2438ff", "strokeWidth": 1.2, "interpolate": "monotone"},
       "encoding": {"x": {"field": "t", "type": "quantitative", "scale": {"domain": [0, 5.71], "range": [185, 561], "nice": false, "zero": false}, "axis": {"orient": "bottom", "offset": -12, "tickCount": 200, "labelOverlap": false, "values": [0.1,0.2,0.3,0.4,0.5,0.6,0.7,0.8,0.9,1.0,1.1,1.2,1.3,1.4,1.5,1.6,1.7,1.8,1.9,2.0,2.1,2.2,2.3,2.4,2.5,2.6,2.7,2.8,2.9,3.0,3.1,3.2,3.3,3.4,3.5,3.6,3.7,3.8,3.9,4.0,4.1,4.2,4.3,4.4,4.5,4.6,4.7,4.8,4.9,5.0,5.1,5.2,5.3,5.4,5.5,5.6,5.7], "labelExpr": "(round(datum.value*10) % 5 == 0) ? format(datum.value, '.1f') : ''", "title": "Time, min"}},
                    "y": {"field": "y", "type": "quantitative", "scale": {"domain": [0, 3600], "range": [166, 41], "nice": false, "zero": false}, "axis": {"orient": "left", "offset": -185, "tickCount": 200, "labelOverlap": false, "values": [0,500,1000,1500,2000,2500,3000,3500], "labelExpr": "format(datum.value, 'd')", "title": "Intensity, cps"}}}},
      {"data": {"name": "tr_b3r"}, "transform": [{"filter": "datum.t >= 1.92 && datum.t <= 3.0"}], "mark": {"type": "area", "color": "#0000a8", "interpolate": "monotone"}, "encoding": {"x": {"field": "t", "type": "quantitative"}, "y": {"field": "y", "type": "quantitative"}}},
      {"data": {"name": "lb_b3r"}, "mark": {"type": "text", "font": "Liberation Sans", "fontSize": 5, "fontWeight": "bold", "baseline": "bottom", "dy": -1.5}, "encoding": {"x": {"field": "t", "type": "quantitative"}, "y": {"field": "y", "type": "quantitative"}, "text": {"field": "lab"}}},
      {"data": {"values": [{}]}, "mark": {"type": "text", "text": "Erythromycin(IS)", "font": "Lato", "fontSize": 23, "color": "#1b1bcc", "align": "left", "baseline": "middle"}, "encoding": {"x": {"datum": 2.35, "type": "quantitative"}, "y": {"datum": 2707, "type": "quantitative"}}}
    ]}
   ]},
  {"width": 571, "height": 180, "resolve": {"scale": {"x": "independent", "y": "independent"}},
   "layer": [
    {"data": {"name": "mt_b4l"}, "layer": [
      {"mark": {"type": "rect", "color": "#1a1ab8"}, "encoding": {"x": {"datum": 0.005, "type": "quantitative", "scale": {"domain": [0, 1]}, "axis": null}, "x2": {"datum": 0.012}, "y": {"datum": 0.99, "type": "quantitative", "scale": {"domain": [0, 1]}, "axis": null}, "y2": {"datum": 0.87}}},
      {"mark": {"type": "text", "align": "left", "baseline": "top", "font": "DejaVu Sans Mono", "fontSize": 5.3, "fontWeight": "bold", "lineBreak": "\n", "lineHeight": 7.1, "dx": 10, "dy": 2}, "encoding": {"x": {"datum": 0, "type": "quantitative"}, "y": {"datum": 1, "type": "quantitative"}, "text": {"field": "h"}}},
      {"data": {"name": "ml_b"}, "mark": {"type": "text", "align": "left", "baseline": "top", "font": "DejaVu Sans Mono", "fontSize": 5.9, "lineBreak": "\n", "lineHeight": 7.1, "dx": 4, "dy": 23.3}, "encoding": {"x": {"datum": 0, "type": "quantitative"}, "y": {"datum": 1, "type": "quantitative"}, "text": {"field": "s"}}},
      {"mark": {"type": "text", "align": "left", "baseline": "top", "font": "DejaVu Sans Mono", "fontSize": 5.9, "lineBreak": "\n", "lineHeight": 7.1, "dx": 83, "dy": 23.3}, "encoding": {"x": {"datum": 0, "type": "quantitative"}, "y": {"datum": 1, "type": "quantitative"}, "text": {"field": "v"}}},
      {"data": {"name": "mu_bl"}, "mark": {"type": "text", "align": "left", "baseline": "top", "font": "DejaVu Sans Mono", "fontSize": 5.9, "lineBreak": "\n", "lineHeight": 7.1, "dx": 124, "dy": 23.3}, "encoding": {"x": {"datum": 0, "type": "quantitative"}, "y": {"datum": 1, "type": "quantitative"}, "text": {"field": "s"}}}
    ]},
    {"layer": [
      {"data": {"name": "tr_b4l"}, "mark": {"type": "line", "color": "#2438ff", "strokeWidth": 1.2, "interpolate": "monotone"},
       "encoding": {"x": {"field": "t", "type": "quantitative", "scale": {"domain": [0.08, 5.88], "range": [182, 564], "nice": false, "zero": false}, "axis": {"orient": "bottom", "offset": -14, "tickCount": 200, "labelOverlap": false, "values": [0.1,0.2,0.3,0.4,0.5,0.6,0.7,0.8,0.9,1.0,1.1,1.2,1.3,1.4,1.5,1.6,1.7,1.8,1.9,2.0,2.1,2.2,2.3,2.4,2.5,2.6,2.7,2.8,2.9,3.0,3.1,3.2,3.3,3.4,3.5,3.6,3.7,3.8,3.9,4.0,4.1,4.2,4.3,4.4,4.5,4.6,4.7,4.8,4.9,5.0,5.1,5.2,5.3,5.4,5.5,5.6,5.7,5.8], "labelExpr": "(round(datum.value*10) % 5 == 0) ? format(datum.value, '.1f') : ''", "title": "Time, min"}},
                    "y": {"field": "y", "type": "quantitative", "scale": {"domain": [0, 275], "range": [166, 38], "nice": false, "zero": false}, "axis": {"orient": "left", "offset": -182, "tickCount": 200, "labelOverlap": false, "values": [0,50,100,150,200,250], "labelExpr": "format(datum.value, 'd')", "title": "Intensity, cps"}}}},
      {"data": {"name": "tr_b4l"}, "transform": [{"filter": "datum.t >= 2.75 && datum.t <= 3.35"}], "mark": {"type": "area", "color": "#0000a8", "interpolate": "monotone"}, "encoding": {"x": {"field": "t", "type": "quantitative"}, "y": {"field": "y", "type": "quantitative"}}},
      {"data": {"name": "lb_b4l"}, "mark": {"type": "text", "font": "Liberation Sans", "fontSize": 5, "fontWeight": "bold", "baseline": "bottom", "dy": -1.5}, "encoding": {"x": {"field": "t", "type": "quantitative"}, "y": {"field": "y", "type": "quantitative"}, "text": {"field": "lab"}}},
      {"data": {"values": [{}]}, "mark": {"type": "text", "text": "HQC(800ng/ml)\nRapamycin", "lineBreak": "\n", "lineHeight": 33, "font": "Lato", "fontSize": 23, "color": "#1b1bcc", "align": "left", "baseline": "middle"}, "encoding": {"x": {"datum": 0.23, "type": "quantitative"}, "y": {"datum": 267.5, "type": "quantitative"}}}
    ]}
   ]},
  {"width": 563, "height": 180, "resolve": {"scale": {"x": "independent", "y": "independent"}},
   "layer": [
    {"data": {"name": "mt_b4r"}, "layer": [
      {"mark": {"type": "rect", "color": "#1a1ab8"}, "encoding": {"x": {"datum": 0.005, "type": "quantitative", "scale": {"domain": [0, 1]}, "axis": null}, "x2": {"datum": 0.012}, "y": {"datum": 0.99, "type": "quantitative", "scale": {"domain": [0, 1]}, "axis": null}, "y2": {"datum": 0.87}}},
      {"mark": {"type": "text", "align": "left", "baseline": "top", "font": "DejaVu Sans Mono", "fontSize": 5.3, "fontWeight": "bold", "lineBreak": "\n", "lineHeight": 7.1, "dx": 10, "dy": 2}, "encoding": {"x": {"datum": 0, "type": "quantitative"}, "y": {"datum": 1, "type": "quantitative"}, "text": {"field": "h"}}},
      {"data": {"name": "ml_b"}, "mark": {"type": "text", "align": "left", "baseline": "top", "font": "DejaVu Sans Mono", "fontSize": 5.9, "lineBreak": "\n", "lineHeight": 7.1, "dx": 4, "dy": 23.3}, "encoding": {"x": {"datum": 0, "type": "quantitative"}, "y": {"datum": 1, "type": "quantitative"}, "text": {"field": "s"}}},
      {"mark": {"type": "text", "align": "left", "baseline": "top", "font": "DejaVu Sans Mono", "fontSize": 5.9, "lineBreak": "\n", "lineHeight": 7.1, "dx": 83, "dy": 23.3}, "encoding": {"x": {"datum": 0, "type": "quantitative"}, "y": {"datum": 1, "type": "quantitative"}, "text": {"field": "v"}}},
      {"data": {"name": "mu_br"}, "mark": {"type": "text", "align": "left", "baseline": "top", "font": "DejaVu Sans Mono", "fontSize": 5.9, "lineBreak": "\n", "lineHeight": 7.1, "dx": 124, "dy": 23.3}, "encoding": {"x": {"datum": 0, "type": "quantitative"}, "y": {"datum": 1, "type": "quantitative"}, "text": {"field": "s"}}}
    ]},
    {"layer": [
      {"data": {"name": "tr_b4r"}, "mark": {"type": "line", "color": "#2438ff", "strokeWidth": 1.2, "interpolate": "monotone"},
       "encoding": {"x": {"field": "t", "type": "quantitative", "scale": {"domain": [0, 5.71], "range": [185, 561], "nice": false, "zero": false}, "axis": {"orient": "bottom", "offset": -14, "tickCount": 200, "labelOverlap": false, "values": [0.1,0.2,0.3,0.4,0.5,0.6,0.7,0.8,0.9,1.0,1.1,1.2,1.3,1.4,1.5,1.6,1.7,1.8,1.9,2.0,2.1,2.2,2.3,2.4,2.5,2.6,2.7,2.8,2.9,3.0,3.1,3.2,3.3,3.4,3.5,3.6,3.7,3.8,3.9,4.0,4.1,4.2,4.3,4.4,4.5,4.6,4.7,4.8,4.9,5.0,5.1,5.2,5.3,5.4,5.5,5.6,5.7], "labelExpr": "(round(datum.value*10) % 5 == 0) ? format(datum.value, '.1f') : ''", "title": "Time, min"}},
                    "y": {"field": "y", "type": "quantitative", "scale": {"domain": [0, 4250], "range": [166, 38], "nice": false, "zero": false}, "axis": {"orient": "left", "offset": -185, "tickCount": 200, "labelOverlap": false, "values": [0,500,1000,1500,2000,2500,3000,3500,4000], "labelExpr": "format(datum.value, 'd')", "title": "Intensity, cps"}}}},
      {"data": {"name": "tr_b4r"}, "transform": [{"filter": "datum.t >= 1.93 && datum.t <= 3.0"}], "mark": {"type": "area", "color": "#0000a8", "interpolate": "monotone"}, "encoding": {"x": {"field": "t", "type": "quantitative"}, "y": {"field": "y", "type": "quantitative"}}},
      {"data": {"name": "lb_b4r"}, "mark": {"type": "text", "font": "Liberation Sans", "fontSize": 5, "fontWeight": "bold", "baseline": "bottom", "dy": -1.5}, "encoding": {"x": {"field": "t", "type": "quantitative"}, "y": {"field": "y", "type": "quantitative"}, "text": {"field": "lab"}}},
      {"data": {"values": [{}]}, "mark": {"type": "text", "text": "Erythromycin(IS)", "font": "Lato", "fontSize": 23, "color": "#1b1bcc", "align": "left", "baseline": "middle"}, "encoding": {"x": {"datum": 2.44, "type": "quantitative"}, "y": {"datum": 3586, "type": "quantitative"}}}
    ]}
   ]}
]
}
]
}
